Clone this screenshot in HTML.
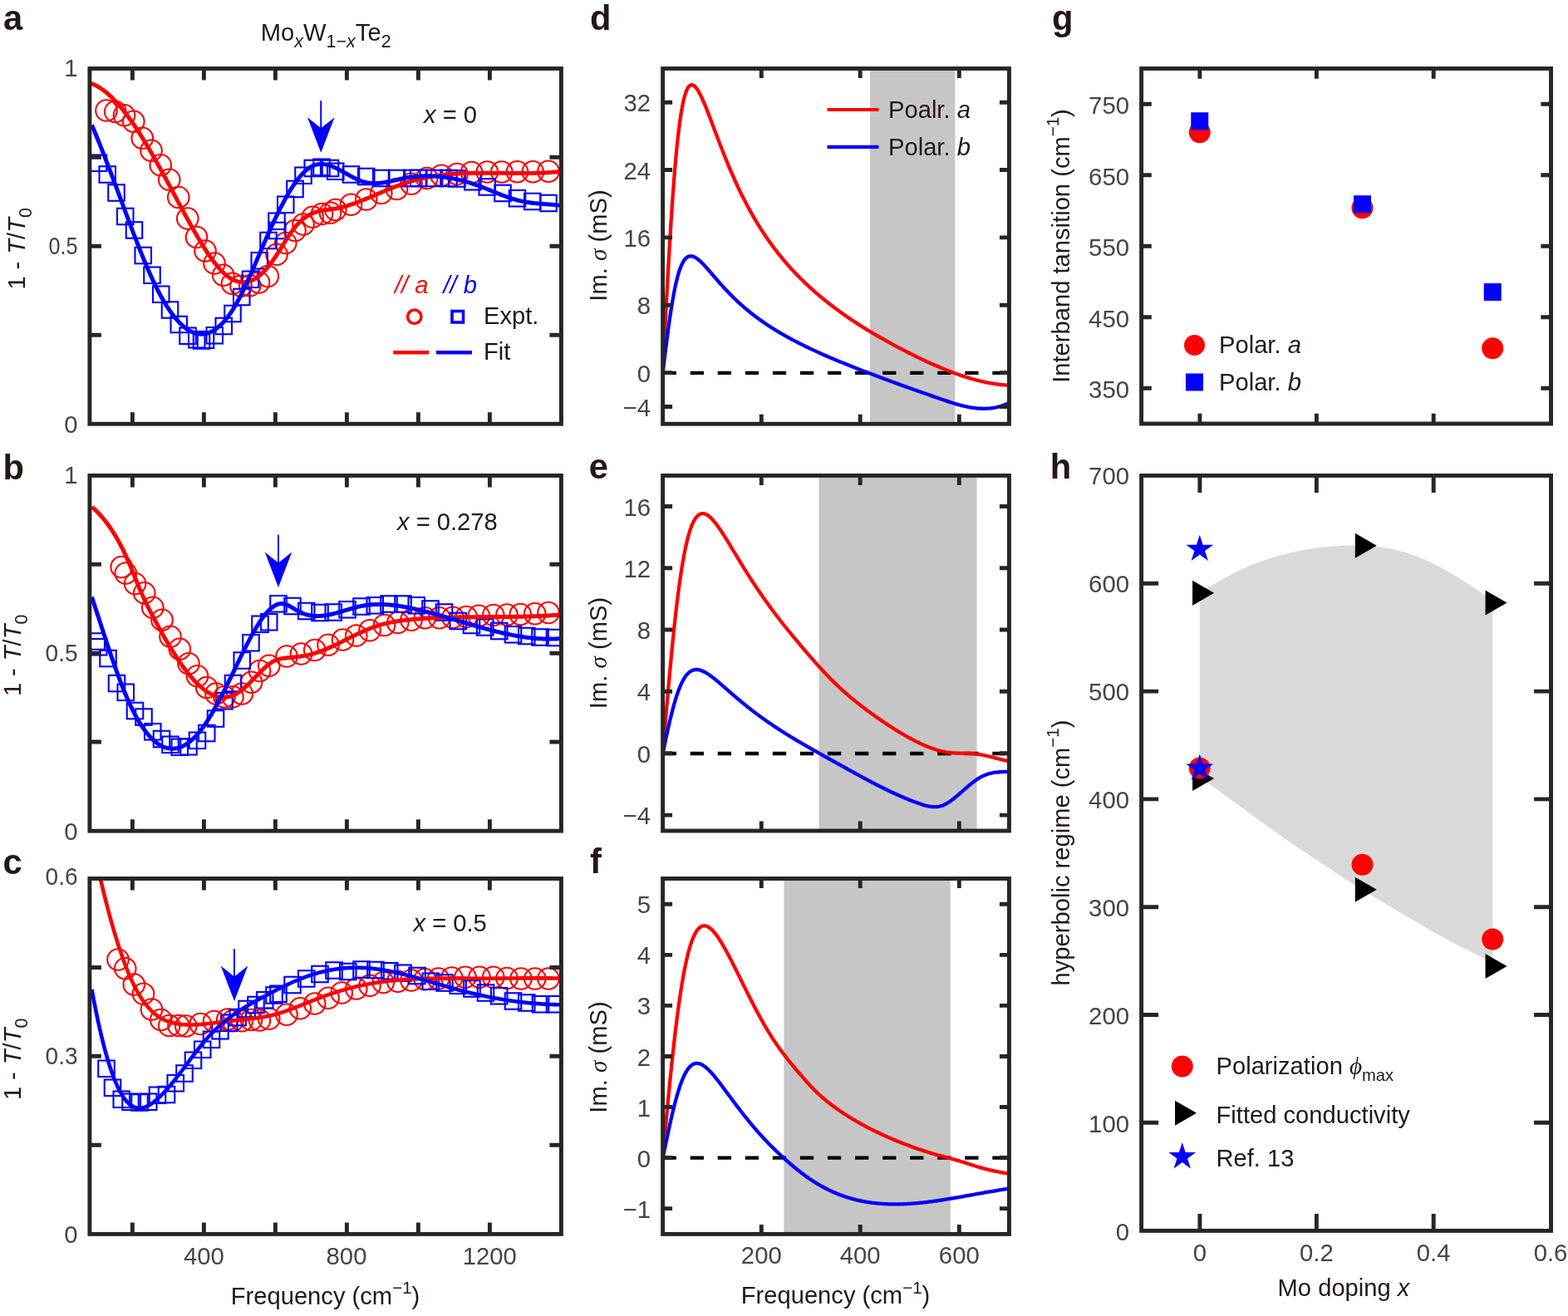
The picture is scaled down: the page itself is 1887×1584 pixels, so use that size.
<!DOCTYPE html>
<html><head><meta charset="utf-8"><title>Figure</title>
<style>
html,body{margin:0;padding:0;background:#fff;}
svg{display:block;font-family:"Liberation Sans",sans-serif;}
.sy{font-family:"Liberation Serif",serif;font-style:italic;}
</style></head><body>
<svg width="1887" height="1584" viewBox="0 0 1887 1584">
<rect width="1887" height="1584" fill="#ffffff"/>
<g id="panel-a">
<clipPath id="ca"><rect x="107.9" y="82.5" width="567.55" height="427.75"/></clipPath>
<g clip-path="url(#ca)">
<g fill="none" stroke="#ff0000" stroke-width="2.1"><circle cx="128" cy="133" r="12.8"/><circle cx="138.75" cy="134.5" r="12.8"/><circle cx="149.5" cy="138.75" r="12.8"/><circle cx="160.75" cy="146.25" r="12.8"/><circle cx="171.25" cy="166.25" r="12.8"/><circle cx="182" cy="181.25" r="12.8"/><circle cx="193.25" cy="198.75" r="12.8"/><circle cx="203.75" cy="216.25" r="12.8"/><circle cx="214.75" cy="237.5" r="12.8"/><circle cx="225.75" cy="263" r="12.8"/><circle cx="236.5" cy="285.5" r="12.8"/><circle cx="247" cy="302" r="12.8"/><circle cx="258" cy="317" r="12.8"/><circle cx="268.75" cy="331.25" r="12.8"/><circle cx="279.5" cy="341.25" r="12.8"/><circle cx="290" cy="344.25" r="12.8"/><circle cx="300.75" cy="343.75" r="12.8"/><circle cx="311.5" cy="340" r="12.8"/><circle cx="322.25" cy="332.5" r="12.8"/><circle cx="333" cy="306.25" r="12.8"/><circle cx="343.75" cy="292.5" r="12.8"/><circle cx="355" cy="277.5" r="12.8"/><circle cx="365" cy="270" r="12.8"/><circle cx="376.25" cy="261.25" r="12.8"/><circle cx="387.5" cy="257.5" r="12.8"/><circle cx="397.5" cy="256.25" r="12.8"/><circle cx="403.75" cy="252.5" r="12.8"/><circle cx="422.5" cy="246.25" r="12.8"/><circle cx="440.75" cy="240" r="12.8"/><circle cx="458.75" cy="232.5" r="12.8"/><circle cx="477.5" cy="227.5" r="12.8"/><circle cx="495" cy="221.25" r="12.8"/><circle cx="513.75" cy="214.5" r="12.8"/><circle cx="531.25" cy="211.25" r="12.8"/><circle cx="550" cy="209.5" r="12.8"/><circle cx="567.5" cy="207.5" r="12.8"/><circle cx="586.25" cy="207" r="12.8"/><circle cx="603.75" cy="207" r="12.8"/><circle cx="622.5" cy="206.75" r="12.8"/><circle cx="641.25" cy="206.75" r="12.8"/><circle cx="660" cy="206.25" r="12.8"/></g>
<g fill="none" stroke="#0000ff" stroke-width="2.1"><rect x="108.75" y="186.5" width="19.5" height="19.5"/><rect x="119.5" y="200.25" width="19.5" height="19.5"/><rect x="130.25" y="222.25" width="19.5" height="19.5"/><rect x="141" y="250.75" width="19.5" height="19.5"/><rect x="151.75" y="267.25" width="19.5" height="19.5"/><rect x="162.5" y="297.75" width="19.5" height="19.5"/><rect x="173.25" y="321.5" width="19.5" height="19.5"/><rect x="184" y="344.5" width="19.5" height="19.5"/><rect x="194.75" y="363.25" width="19.5" height="19.5"/><rect x="205.5" y="380.75" width="19.5" height="19.5"/><rect x="216.25" y="394.5" width="19.5" height="19.5"/><rect x="227" y="399" width="19.5" height="19.5"/><rect x="232.75" y="400.25" width="19.5" height="19.5"/><rect x="237.75" y="399.5" width="19.5" height="19.5"/><rect x="248.5" y="394" width="19.5" height="19.5"/><rect x="259.5" y="382.75" width="19.5" height="19.5"/><rect x="270.25" y="367.75" width="19.5" height="19.5"/><rect x="281" y="347.75" width="19.5" height="19.5"/><rect x="291.75" y="326.5" width="19.5" height="19.5"/><rect x="302.5" y="304" width="19.5" height="19.5"/><rect x="313.25" y="279.75" width="19.5" height="19.5"/><rect x="323.25" y="256.5" width="19.5" height="19.5"/><rect x="324" y="267.75" width="19.5" height="19.5"/><rect x="334" y="236.5" width="19.5" height="19.5"/><rect x="345.25" y="217.75" width="19.5" height="19.5"/><rect x="355.25" y="201.5" width="19.5" height="19.5"/><rect x="366.5" y="192.75" width="19.5" height="19.5"/><rect x="377.25" y="191.5" width="19.5" height="19.5"/><rect x="387.75" y="192.75" width="19.5" height="19.5"/><rect x="394" y="196.5" width="19.5" height="19.5"/><rect x="412.75" y="200.25" width="19.5" height="19.5"/><rect x="431" y="202.75" width="19.5" height="19.5"/><rect x="449" y="204.75" width="19.5" height="19.5"/><rect x="467.75" y="204.75" width="19.5" height="19.5"/><rect x="486" y="204.75" width="19.5" height="19.5"/><rect x="494" y="204.75" width="19.5" height="19.5"/><rect x="512.75" y="204.75" width="19.5" height="19.5"/><rect x="530.25" y="204.75" width="19.5" height="19.5"/><rect x="540.25" y="205.25" width="19.5" height="19.5"/><rect x="559" y="209" width="19.5" height="19.5"/><rect x="576.5" y="215.25" width="19.5" height="19.5"/><rect x="595.25" y="222.75" width="19.5" height="19.5"/><rect x="612.75" y="229" width="19.5" height="19.5"/><rect x="631" y="232.75" width="19.5" height="19.5"/><rect x="650.25" y="234.75" width="19.5" height="19.5"/></g>
<path d="M107.75,99.92 L108.89,100.26 L110.02,100.65 L111.16,101.07 L112.3,101.53 L113.44,102.02 L114.57,102.55 L115.71,103.11 L116.85,103.71 L117.99,104.35 L119.12,105.02 L120.26,105.72 L121.4,106.46 L122.53,107.23 L123.67,108.03 L124.81,108.87 L125.95,109.73 L127.08,110.63 L128.22,111.56 L129.36,112.52 L130.5,113.51 L131.63,114.53 L132.77,115.58 L133.91,116.66 L135.04,117.77 L136.18,118.91 L137.32,120.07 L138.46,121.27 L139.59,122.48 L140.73,123.73 L141.87,125 L143.01,126.3 L144.14,127.63 L145.28,128.98 L146.42,130.35 L147.55,131.75 L148.69,133.18 L149.83,134.62 L150.97,136.09 L152.1,137.59 L153.24,139.1 L154.38,140.64 L155.52,142.2 L156.65,143.78 L157.79,145.38 L158.93,147.01 L160.06,148.65 L161.2,150.31 L162.34,151.99 L163.48,153.7 L164.61,155.42 L165.75,157.15 L166.89,158.91 L168.03,160.68 L169.16,162.47 L170.3,164.28 L171.44,166.1 L172.57,167.94 L173.71,169.8 L174.85,171.66 L175.99,173.55 L177.12,175.45 L178.26,177.36 L179.4,179.29 L180.54,181.22 L181.67,183.18 L182.81,185.14 L183.95,187.12 L185.08,189.1 L186.22,191.1 L187.36,193.11 L188.5,195.13 L189.63,197.16 L190.77,199.2 L191.91,201.25 L193.05,203.31 L194.18,205.37 L195.32,207.45 L196.46,209.53 L197.59,211.62 L198.73,213.71 L199.87,215.81 L201.01,217.92 L202.14,220.03 L203.28,222.15 L204.42,224.27 L205.56,226.4 L206.69,228.53 L207.83,230.66 L208.97,232.79 L210.1,234.92 L211.24,237.05 L212.38,239.18 L213.52,241.31 L214.65,243.44 L215.79,245.56 L216.93,247.68 L218.07,249.8 L219.2,251.91 L220.34,254.02 L221.48,256.11 L222.61,258.21 L223.75,260.29 L224.89,262.37 L226.03,264.43 L227.16,266.49 L228.3,268.54 L229.44,270.57 L230.58,272.6 L231.71,274.61 L232.85,276.61 L233.99,278.59 L235.12,280.56 L236.26,282.51 L237.4,284.45 L238.54,286.37 L239.67,288.27 L240.81,290.16 L241.95,292.03 L243.09,293.87 L244.22,295.7 L245.36,297.51 L246.5,299.29 L247.63,301.05 L248.77,302.79 L249.91,304.5 L251.05,306.19 L252.18,307.85 L253.32,309.48 L254.46,311.07 L255.6,312.64 L256.73,314.18 L257.87,315.68 L259.01,317.14 L260.14,318.57 L261.28,319.97 L262.42,321.32 L263.56,322.63 L264.69,323.91 L265.83,325.14 L266.97,326.33 L268.11,327.47 L269.24,328.57 L270.38,329.62 L271.52,330.62 L272.65,331.57 L273.79,332.47 L274.93,333.32 L276.07,334.12 L277.2,334.86 L278.34,335.55 L279.48,336.19 L280.62,336.77 L281.75,337.3 L282.89,337.78 L284.03,338.21 L285.16,338.58 L286.3,338.9 L287.44,339.16 L288.58,339.37 L289.71,339.53 L290.85,339.64 L291.99,339.7 L293.13,339.7 L294.26,339.64 L295.4,339.54 L296.54,339.38 L297.67,339.17 L298.81,338.91 L299.95,338.59 L301.09,338.22 L302.22,337.8 L303.36,337.33 L304.5,336.8 L305.64,336.22 L306.77,335.59 L307.91,334.9 L309.05,334.17 L310.18,333.38 L311.32,332.53 L312.46,331.64 L313.6,330.69 L314.73,329.69 L315.87,328.63 L317.01,327.53 L318.15,326.37 L319.28,325.16 L320.42,323.9 L321.56,322.58 L322.69,321.21 L323.83,319.79 L324.97,318.32 L326.11,316.79 L327.24,315.22 L328.38,313.6 L329.52,311.94 L330.66,310.25 L331.79,308.53 L332.93,306.78 L334.07,305 L335.2,303.21 L336.34,301.41 L337.48,299.59 L338.62,297.77 L339.75,295.95 L340.89,294.13 L342.03,292.32 L343.17,290.52 L344.3,288.73 L345.44,286.97 L346.58,285.23 L347.71,283.52 L348.85,281.84 L349.99,280.2 L351.13,278.6 L352.26,277.04 L353.4,275.54 L354.54,274.09 L355.68,272.7 L356.81,271.37 L357.95,270.09 L359.09,268.88 L360.22,267.72 L361.36,266.61 L362.5,265.56 L363.64,264.56 L364.77,263.61 L365.91,262.71 L367.05,261.87 L368.19,261.07 L369.32,260.31 L370.46,259.6 L371.6,258.94 L372.73,258.32 L373.87,257.74 L375.01,257.2 L376.15,256.7 L377.28,256.24 L378.42,255.81 L379.56,255.42 L380.7,255.06 L381.83,254.73 L382.97,254.42 L384.11,254.14 L385.24,253.89 L386.38,253.65 L387.52,253.43 L388.66,253.23 L389.79,253.04 L390.93,252.87 L392.07,252.7 L393.21,252.55 L394.34,252.39 L395.48,252.25 L396.62,252.1 L397.76,251.96 L398.89,251.81 L400.03,251.66 L401.17,251.5 L402.3,251.33 L403.44,251.15 L404.58,250.96 L405.72,250.76 L406.85,250.54 L407.99,250.3 L409.13,250.05 L410.27,249.79 L411.4,249.51 L412.54,249.22 L413.68,248.91 L414.81,248.6 L415.95,248.27 L417.09,247.94 L418.23,247.59 L419.36,247.23 L420.5,246.87 L421.64,246.49 L422.78,246.11 L423.91,245.72 L425.05,245.32 L426.19,244.91 L427.32,244.5 L428.46,244.09 L429.6,243.66 L430.74,243.23 L431.87,242.8 L433.01,242.36 L434.15,241.92 L435.29,241.47 L436.42,241.02 L437.56,240.56 L438.7,240.1 L439.83,239.63 L440.97,239.17 L442.11,238.7 L443.25,238.22 L444.38,237.75 L445.52,237.27 L446.66,236.79 L447.8,236.31 L448.93,235.82 L450.07,235.34 L451.21,234.85 L452.34,234.37 L453.48,233.88 L454.62,233.39 L455.76,232.91 L456.89,232.42 L458.03,231.94 L459.17,231.45 L460.31,230.97 L461.44,230.48 L462.58,230 L463.72,229.52 L464.85,229.05 L465.99,228.57 L467.13,228.1 L468.27,227.63 L469.4,227.17 L470.54,226.7 L471.68,226.25 L472.82,225.79 L473.95,225.34 L475.09,224.89 L476.23,224.45 L477.36,224.02 L478.5,223.59 L479.64,223.16 L480.78,222.74 L481.91,222.33 L483.05,221.92 L484.19,221.52 L485.33,221.12 L486.46,220.74 L487.6,220.36 L488.74,219.98 L489.87,219.62 L491.01,219.26 L492.15,218.91 L493.29,218.57 L494.42,218.23 L495.56,217.91 L496.7,217.58 L497.84,217.27 L498.97,216.96 L500.11,216.66 L501.25,216.37 L502.38,216.08 L503.52,215.8 L504.66,215.52 L505.8,215.26 L506.93,214.99 L508.07,214.74 L509.21,214.49 L510.35,214.25 L511.48,214.01 L512.62,213.78 L513.76,213.55 L514.89,213.34 L516.03,213.12 L517.17,212.92 L518.31,212.71 L519.44,212.52 L520.58,212.33 L521.72,212.14 L522.86,211.96 L523.99,211.79 L525.13,211.62 L526.27,211.45 L527.4,211.29 L528.54,211.14 L529.68,210.99 L530.82,210.85 L531.95,210.71 L533.09,210.57 L534.23,210.44 L535.37,210.31 L536.5,210.19 L537.64,210.08 L538.78,209.96 L539.91,209.85 L541.05,209.75 L542.19,209.65 L543.33,209.55 L544.46,209.46 L545.6,209.37 L546.74,209.29 L547.88,209.21 L549.01,209.13 L550.15,209.06 L551.29,208.99 L552.42,208.92 L553.56,208.86 L554.7,208.8 L555.84,208.74 L556.97,208.69 L558.11,208.64 L559.25,208.59 L560.39,208.55 L561.52,208.51 L562.66,208.47 L563.8,208.43 L564.93,208.4 L566.07,208.37 L567.21,208.34 L568.35,208.32 L569.48,208.29 L570.62,208.27 L571.76,208.25 L572.9,208.24 L574.03,208.22 L575.17,208.21 L576.31,208.2 L577.44,208.19 L578.58,208.19 L579.72,208.18 L580.86,208.18 L581.99,208.17 L583.13,208.17 L584.27,208.18 L585.41,208.18 L586.54,208.18 L587.68,208.19 L588.82,208.19 L589.95,208.2 L591.09,208.21 L592.23,208.22 L593.37,208.23 L594.5,208.24 L595.64,208.25 L596.78,208.26 L597.92,208.27 L599.05,208.29 L600.19,208.3 L601.33,208.31 L602.46,208.33 L603.6,208.34 L604.74,208.35 L605.88,208.37 L607.01,208.38 L608.15,208.4 L609.29,208.41 L610.43,208.42 L611.56,208.44 L612.7,208.45 L613.84,208.46 L614.97,208.47 L616.11,208.49 L617.25,208.5 L618.39,208.51 L619.52,208.52 L620.66,208.52 L621.8,208.53 L622.94,208.54 L624.07,208.54 L625.21,208.54 L626.35,208.55 L627.48,208.55 L628.62,208.55 L629.76,208.55 L630.9,208.54 L632.03,208.54 L633.17,208.53 L634.31,208.52 L635.45,208.51 L636.58,208.5 L637.72,208.49 L638.86,208.47 L639.99,208.45 L641.13,208.43 L642.27,208.41 L643.41,208.38 L644.54,208.35 L645.68,208.32 L646.82,208.29 L647.96,208.25 L649.09,208.22 L650.23,208.18 L651.37,208.13 L652.5,208.08 L653.64,208.03 L654.78,207.98 L655.92,207.92 L657.05,207.87 L658.19,207.8 L659.33,207.74 L660.47,207.67 L661.6,207.59 L662.74,207.52 L663.88,207.44 L665.01,207.35 L666.15,207.26 L667.29,207.17 L668.43,207.08 L669.56,206.98 L670.7,206.87 L671.84,206.76 L672.98,206.65 L674.11,206.54 L675.25,206.41" fill="none" stroke="#ff0000" stroke-width="5" stroke-linejoin="round"/>
<path d="M110.5,150.44 L111.63,153.11 L112.76,155.81 L113.9,158.53 L115.03,161.27 L116.16,164.03 L117.29,166.81 L118.42,169.61 L119.55,172.43 L120.69,175.26 L121.82,178.12 L122.95,180.99 L124.08,183.87 L125.21,186.77 L126.34,189.69 L127.48,192.61 L128.61,195.55 L129.74,198.5 L130.87,201.47 L132,204.44 L133.14,207.42 L134.27,210.41 L135.4,213.41 L136.53,216.41 L137.66,219.43 L138.79,222.44 L139.93,225.47 L141.06,228.49 L142.19,231.52 L143.32,234.56 L144.45,237.59 L145.58,240.63 L146.72,243.67 L147.85,246.7 L148.98,249.74 L150.11,252.77 L151.24,255.8 L152.38,258.83 L153.51,261.85 L154.64,264.87 L155.77,267.88 L156.9,270.89 L158.03,273.89 L159.17,276.88 L160.3,279.85 L161.43,282.82 L162.56,285.77 L163.69,288.71 L164.82,291.63 L165.96,294.53 L167.09,297.42 L168.22,300.28 L169.35,303.13 L170.48,305.94 L171.62,308.74 L172.75,311.51 L173.88,314.25 L175.01,316.97 L176.14,319.65 L177.27,322.3 L178.41,324.92 L179.54,327.51 L180.67,330.06 L181.8,332.58 L182.93,335.05 L184.06,337.49 L185.2,339.89 L186.33,342.24 L187.46,344.56 L188.59,346.83 L189.72,349.06 L190.86,351.24 L191.99,353.39 L193.12,355.49 L194.25,357.54 L195.38,359.56 L196.51,361.53 L197.65,363.45 L198.78,365.33 L199.91,367.17 L201.04,368.97 L202.17,370.71 L203.3,372.42 L204.44,374.08 L205.57,375.69 L206.7,377.26 L207.83,378.78 L208.96,380.26 L210.1,381.69 L211.23,383.07 L212.36,384.41 L213.49,385.7 L214.62,386.94 L215.75,388.14 L216.89,389.29 L218.02,390.39 L219.15,391.44 L220.28,392.45 L221.41,393.4 L222.54,394.31 L223.68,395.17 L224.81,395.99 L225.94,396.75 L227.07,397.46 L228.2,398.13 L229.34,398.74 L230.47,399.31 L231.6,399.82 L232.73,400.28 L233.86,400.7 L234.99,401.06 L236.13,401.37 L237.26,401.63 L238.39,401.84 L239.52,402 L240.65,402.11 L241.78,402.16 L242.92,402.17 L244.05,402.12 L245.18,402.02 L246.31,401.86 L247.44,401.65 L248.58,401.4 L249.71,401.08 L250.84,400.72 L251.97,400.3 L253.1,399.83 L254.23,399.31 L255.37,398.73 L256.5,398.1 L257.63,397.42 L258.76,396.69 L259.89,395.9 L261.02,395.06 L262.16,394.16 L263.29,393.21 L264.42,392.21 L265.55,391.15 L266.68,390.04 L267.82,388.88 L268.95,387.66 L270.08,386.39 L271.21,385.07 L272.34,383.69 L273.47,382.25 L274.61,380.77 L275.74,379.23 L276.87,377.63 L278,375.98 L279.13,374.28 L280.26,372.52 L281.4,370.7 L282.53,368.83 L283.66,366.91 L284.79,364.93 L285.92,362.9 L287.06,360.82 L288.19,358.68 L289.32,356.5 L290.45,354.27 L291.58,351.99 L292.71,349.68 L293.85,347.33 L294.98,344.94 L296.11,342.52 L297.24,340.06 L298.37,337.58 L299.5,335.07 L300.64,332.54 L301.77,329.99 L302.9,327.42 L304.03,324.83 L305.16,322.22 L306.3,319.61 L307.43,316.98 L308.56,314.35 L309.69,311.71 L310.82,309.07 L311.95,306.43 L313.09,303.8 L314.22,301.16 L315.35,298.54 L316.48,295.92 L317.61,293.32 L318.74,290.73 L319.88,288.15 L321.01,285.58 L322.14,283.03 L323.27,280.49 L324.4,277.97 L325.54,275.47 L326.67,272.99 L327.8,270.53 L328.93,268.09 L330.06,265.68 L331.19,263.28 L332.33,260.92 L333.46,258.57 L334.59,256.26 L335.72,253.97 L336.85,251.71 L337.98,249.49 L339.12,247.29 L340.25,245.13 L341.38,243 L342.51,240.9 L343.64,238.84 L344.78,236.82 L345.91,234.84 L347.04,232.89 L348.17,230.99 L349.3,229.12 L350.43,227.3 L351.57,225.52 L352.7,223.79 L353.83,222.1 L354.96,220.46 L356.09,218.87 L357.22,217.33 L358.36,215.84 L359.49,214.39 L360.62,213 L361.75,211.67 L362.88,210.39 L364.02,209.16 L365.15,207.99 L366.28,206.88 L367.41,205.83 L368.54,204.84 L369.67,203.91 L370.81,203.04 L371.94,202.23 L373.07,201.49 L374.2,200.82 L375.33,200.21 L376.46,199.67 L377.6,199.19 L378.73,198.78 L379.86,198.43 L380.99,198.14 L382.12,197.9 L383.26,197.73 L384.39,197.6 L385.52,197.53 L386.65,197.51 L387.78,197.54 L388.91,197.61 L390.05,197.73 L391.18,197.89 L392.31,198.1 L393.44,198.34 L394.57,198.62 L395.7,198.93 L396.84,199.28 L397.97,199.66 L399.1,200.08 L400.23,200.52 L401.36,200.98 L402.49,201.47 L403.63,201.99 L404.76,202.52 L405.89,203.08 L407.02,203.65 L408.15,204.24 L409.29,204.84 L410.42,205.45 L411.55,206.07 L412.68,206.7 L413.81,207.34 L414.94,207.98 L416.08,208.62 L417.21,209.27 L418.34,209.91 L419.47,210.55 L420.6,211.19 L421.73,211.82 L422.87,212.44 L424,213.05 L425.13,213.65 L426.26,214.23 L427.39,214.8 L428.53,215.35 L429.66,215.88 L430.79,216.39 L431.92,216.88 L433.05,217.34 L434.18,217.78 L435.32,218.19 L436.45,218.56 L437.58,218.91 L438.71,219.22 L439.84,219.49 L440.97,219.74 L442.11,219.95 L443.24,220.14 L444.37,220.29 L445.5,220.42 L446.63,220.52 L447.77,220.59 L448.9,220.64 L450.03,220.67 L451.16,220.67 L452.29,220.65 L453.42,220.6 L454.56,220.54 L455.69,220.46 L456.82,220.36 L457.95,220.24 L459.08,220.11 L460.21,219.96 L461.35,219.8 L462.48,219.62 L463.61,219.43 L464.74,219.23 L465.87,219.02 L467.01,218.8 L468.14,218.58 L469.27,218.34 L470.4,218.1 L471.53,217.85 L472.66,217.6 L473.8,217.35 L474.93,217.09 L476.06,216.83 L477.19,216.57 L478.32,216.31 L479.45,216.05 L480.59,215.8 L481.72,215.54 L482.85,215.3 L483.98,215.05 L485.11,214.82 L486.25,214.59 L487.38,214.37 L488.51,214.16 L489.64,213.96 L490.77,213.77 L491.9,213.58 L493.04,213.41 L494.17,213.24 L495.3,213.09 L496.43,212.94 L497.56,212.81 L498.69,212.68 L499.83,212.56 L500.96,212.45 L502.09,212.35 L503.22,212.26 L504.35,212.18 L505.49,212.1 L506.62,212.04 L507.75,211.98 L508.88,211.93 L510.01,211.9 L511.14,211.87 L512.28,211.85 L513.41,211.83 L514.54,211.83 L515.67,211.84 L516.8,211.85 L517.93,211.87 L519.07,211.9 L520.2,211.94 L521.33,211.99 L522.46,212.04 L523.59,212.11 L524.73,212.18 L525.86,212.26 L526.99,212.35 L528.12,212.45 L529.25,212.55 L530.38,212.67 L531.52,212.79 L532.65,212.92 L533.78,213.06 L534.91,213.2 L536.04,213.36 L537.17,213.52 L538.31,213.69 L539.44,213.87 L540.57,214.05 L541.7,214.24 L542.83,214.45 L543.97,214.65 L545.1,214.87 L546.23,215.1 L547.36,215.33 L548.49,215.57 L549.62,215.81 L550.76,216.07 L551.89,216.33 L553.02,216.6 L554.15,216.88 L555.28,217.16 L556.41,217.45 L557.55,217.75 L558.68,218.06 L559.81,218.37 L560.94,218.69 L562.07,219.02 L563.21,219.36 L564.34,219.7 L565.47,220.05 L566.6,220.4 L567.73,220.77 L568.86,221.14 L570,221.52 L571.13,221.9 L572.26,222.29 L573.39,222.69 L574.52,223.09 L575.65,223.51 L576.79,223.92 L577.92,224.35 L579.05,224.78 L580.18,225.21 L581.31,225.65 L582.45,226.1 L583.58,226.55 L584.71,227 L585.84,227.45 L586.97,227.91 L588.1,228.37 L589.24,228.83 L590.37,229.29 L591.5,229.75 L592.63,230.21 L593.76,230.67 L594.89,231.13 L596.03,231.59 L597.16,232.05 L598.29,232.51 L599.42,232.96 L600.55,233.41 L601.69,233.86 L602.82,234.3 L603.95,234.74 L605.08,235.18 L606.21,235.61 L607.34,236.03 L608.48,236.45 L609.61,236.86 L610.74,237.26 L611.87,237.66 L613,238.05 L614.13,238.43 L615.27,238.8 L616.4,239.16 L617.53,239.51 L618.66,239.85 L619.79,240.19 L620.93,240.51 L622.06,240.82 L623.19,241.11 L624.32,241.4 L625.45,241.67 L626.58,241.93 L627.72,242.18 L628.85,242.41 L629.98,242.63 L631.11,242.85 L632.24,243.05 L633.37,243.24 L634.51,243.42 L635.64,243.59 L636.77,243.75 L637.9,243.91 L639.03,244.06 L640.17,244.2 L641.3,244.33 L642.43,244.46 L643.56,244.58 L644.69,244.69 L645.82,244.8 L646.96,244.91 L648.09,245.01 L649.22,245.11 L650.35,245.2 L651.48,245.29 L652.61,245.38 L653.75,245.47 L654.88,245.55 L656.01,245.64 L657.14,245.72 L658.27,245.81 L659.41,245.89 L660.54,245.98 L661.67,246.07 L662.8,246.16 L663.93,246.25 L665.06,246.35 L666.2,246.44 L667.33,246.55 L668.46,246.65 L669.59,246.76 L670.72,246.88 L671.85,247 L672.99,247.13 L674.12,247.26 L675.25,247.4" fill="none" stroke="#0000ff" stroke-width="5" stroke-linejoin="round"/>
</g>
<rect x="107.9" y="82.5" width="567.55" height="427.75" fill="none" stroke="#262626" stroke-width="4.9"/>
<path d="M159.4,82.5 v14 M159.4,510.25 v-14 M245.4,82.5 v14 M245.4,510.25 v-14 M331.4,82.5 v14 M331.4,510.25 v-14 M417.4,82.5 v14 M417.4,510.25 v-14 M503.4,82.5 v14 M503.4,510.25 v-14 M589.4,82.5 v14 M589.4,510.25 v-14 M107.9,189.25 h14 M675.45,189.25 h-14 M107.9,296.25 h14 M675.45,296.25 h-14 M107.9,403.25 h14 M675.45,403.25 h-14" fill="none" stroke="#262626" stroke-width="4.9"/>
<path d="M386.25,121.25 V156.25" stroke="#0000ff" stroke-width="2" fill="none"/>
<path d="M386.25,183.75 L369.95,141.25 L386.25,154.25 L402.55,141.25 Z" fill="#0000ff"/>
<text x="93.6" y="92.3" font-size="29.3" text-anchor="end" fill="#474443">1</text>
<text x="93.6" y="306.05" font-size="29.3" text-anchor="end" fill="#474443" textLength="35" lengthAdjust="spacingAndGlyphs">0.5</text>
<text x="93.6" y="520.7" font-size="29.3" text-anchor="end" fill="#474443">0</text>
<text x="4" y="36" font-size="41.67" font-weight="bold" fill="#231815">a</text>
<text transform="translate(30,299.25) rotate(-90)" font-size="29.17" text-anchor="middle" fill="#231815">1 <tspan dx="-0.5">-</tspan> <tspan dx="1" font-style="italic">T</tspan>/<tspan font-style="italic">T</tspan><tspan font-size="21.5" dy="8">0</tspan></text>
<text x="392.2" y="48.6" font-size="29.17" text-anchor="middle" fill="#231815">Mo<tspan font-size="21.5" dy="8" font-style="italic">x</tspan><tspan dy="-8">W</tspan><tspan font-size="21.5" dy="8">1−<tspan font-style="italic">x</tspan></tspan><tspan dy="-8">Te</tspan><tspan font-size="21.5" dy="8">2</tspan></text>
<text x="510" y="148.25" font-size="29.17" fill="#231815"><tspan font-style="italic">x</tspan> = 0</text>
<text x="475" y="353" font-size="29.17" font-style="italic" fill="#ff0000">// a</text>
<text x="533.5" y="353" font-size="29.17" font-style="italic" fill="#0000ff">// b</text>
<circle cx="498.75" cy="381.25" r="8.2" fill="none" stroke="#ff0000" stroke-width="3.6"/>
<rect x="544" y="374.5" width="13.5" height="13.5" fill="none" stroke="#0000ff" stroke-width="3.6"/>
<text x="582" y="390" font-size="29.17" fill="#231815">Expt.</text>
<path d="M473.25,424.25 H516.25" stroke="#ff0000" stroke-width="4.6"/>
<path d="M525,424.25 H568" stroke="#0000ff" stroke-width="4.6"/>
<text x="582" y="432.5" font-size="29.17" fill="#231815">Fit</text>
</g>
<g id="panel-b">
<clipPath id="cb"><rect x="107.9" y="572.45" width="567.55" height="427.7"/></clipPath>
<g clip-path="url(#cb)">
<g fill="none" stroke="#ff0000" stroke-width="2.1"><circle cx="146.25" cy="682.5" r="12.8"/><circle cx="151.25" cy="690" r="12.8"/><circle cx="162.5" cy="702.5" r="12.8"/><circle cx="173.75" cy="713.75" r="12.8"/><circle cx="183.75" cy="731.25" r="12.8"/><circle cx="195" cy="746.25" r="12.8"/><circle cx="205" cy="766.25" r="12.8"/><circle cx="216.25" cy="781.25" r="12.8"/><circle cx="227" cy="798.75" r="12.8"/><circle cx="237.5" cy="813.75" r="12.8"/><circle cx="248.75" cy="827.5" r="12.8"/><circle cx="260" cy="835" r="12.8"/><circle cx="270" cy="838.75" r="12.8"/><circle cx="280" cy="838.75" r="12.8"/><circle cx="291.25" cy="835" r="12.8"/><circle cx="302.5" cy="821.25" r="12.8"/><circle cx="312.5" cy="807.5" r="12.8"/><circle cx="323.75" cy="801.25" r="12.8"/><circle cx="345" cy="790" r="12.8"/><circle cx="362.5" cy="787" r="12.8"/><circle cx="378.75" cy="782.5" r="12.8"/><circle cx="395" cy="776.25" r="12.8"/><circle cx="412.5" cy="770" r="12.8"/><circle cx="428.75" cy="765" r="12.8"/><circle cx="445" cy="758.75" r="12.8"/><circle cx="462.5" cy="752.5" r="12.8"/><circle cx="478.75" cy="749.5" r="12.8"/><circle cx="495" cy="746.25" r="12.8"/><circle cx="511.25" cy="743.75" r="12.8"/><circle cx="528.75" cy="743.75" r="12.8"/><circle cx="545" cy="743.25" r="12.8"/><circle cx="561.25" cy="742.5" r="12.8"/><circle cx="576.25" cy="741.25" r="12.8"/><circle cx="593.75" cy="740.5" r="12.8"/><circle cx="610" cy="740" r="12.8"/><circle cx="626.25" cy="739.5" r="12.8"/><circle cx="643.75" cy="738.75" r="12.8"/><circle cx="660" cy="737.5" r="12.8"/></g>
<g fill="none" stroke="#0000ff" stroke-width="2.1"><rect x="106.5" y="762.25" width="19.5" height="19.5"/><rect x="109" y="769" width="19.5" height="19.5"/><rect x="120.25" y="782.75" width="19.5" height="19.5"/><rect x="130.75" y="812.75" width="19.5" height="19.5"/><rect x="141.5" y="823.5" width="19.5" height="19.5"/><rect x="152.75" y="845.75" width="19.5" height="19.5"/><rect x="163.25" y="853.25" width="19.5" height="19.5"/><rect x="174" y="871" width="19.5" height="19.5"/><rect x="184.75" y="879.75" width="19.5" height="19.5"/><rect x="195.25" y="886.5" width="19.5" height="19.5"/><rect x="206.5" y="889.5" width="19.5" height="19.5"/><rect x="217.25" y="889" width="19.5" height="19.5"/><rect x="227.75" y="881.5" width="19.5" height="19.5"/><rect x="239" y="872.75" width="19.5" height="19.5"/><rect x="249.75" y="855.25" width="19.5" height="19.5"/><rect x="260.25" y="834" width="19.5" height="19.5"/><rect x="270.75" y="812.75" width="19.5" height="19.5"/><rect x="281.5" y="785.25" width="19.5" height="19.5"/><rect x="292.25" y="764" width="19.5" height="19.5"/><rect x="303.25" y="741.5" width="19.5" height="19.5"/><rect x="314" y="739" width="19.5" height="19.5"/><rect x="325.25" y="717" width="19.5" height="19.5"/><rect x="342.25" y="719.75" width="19.5" height="19.5"/><rect x="359" y="725.75" width="19.5" height="19.5"/><rect x="375.25" y="727.75" width="19.5" height="19.5"/><rect x="391.5" y="727.25" width="19.5" height="19.5"/><rect x="408.25" y="724" width="19.5" height="19.5"/><rect x="425.25" y="720.25" width="19.5" height="19.5"/><rect x="441.5" y="719" width="19.5" height="19.5"/><rect x="458.25" y="717.25" width="19.5" height="19.5"/><rect x="475.25" y="717.25" width="19.5" height="19.5"/><rect x="491.5" y="719" width="19.5" height="19.5"/><rect x="508.25" y="723.25" width="19.5" height="19.5"/><rect x="524.75" y="727.25" width="19.5" height="19.5"/><rect x="541.5" y="737.75" width="19.5" height="19.5"/><rect x="557.75" y="742.75" width="19.5" height="19.5"/><rect x="574" y="745.25" width="19.5" height="19.5"/><rect x="591" y="749.75" width="19.5" height="19.5"/><rect x="607.75" y="754" width="19.5" height="19.5"/><rect x="624" y="755.75" width="19.5" height="19.5"/><rect x="640.25" y="757.25" width="19.5" height="19.5"/><rect x="657.75" y="757.75" width="19.5" height="19.5"/></g>
<path d="M110.5,610.05 L111.63,611.04 L112.76,612.05 L113.9,613.09 L115.03,614.17 L116.16,615.27 L117.29,616.4 L118.42,617.57 L119.55,618.76 L120.69,619.99 L121.82,621.26 L122.95,622.55 L124.08,623.89 L125.21,625.26 L126.34,626.66 L127.48,628.1 L128.61,629.59 L129.74,631.11 L130.87,632.67 L132,634.27 L133.14,635.91 L134.27,637.6 L135.4,639.33 L136.53,641.1 L137.66,642.92 L138.79,644.78 L139.93,646.69 L141.06,648.64 L142.19,650.64 L143.32,652.69 L144.45,654.79 L145.58,656.94 L146.72,659.14 L147.85,661.4 L148.98,663.7 L150.11,666.06 L151.24,668.47 L152.38,670.94 L153.51,673.46 L154.64,676.03 L155.77,678.67 L156.9,681.35 L158.03,684.08 L159.17,686.84 L160.3,689.62 L161.43,692.42 L162.56,695.23 L163.69,698.03 L164.82,700.82 L165.96,703.6 L167.09,706.34 L168.22,709.05 L169.35,711.71 L170.48,714.31 L171.62,716.85 L172.75,719.34 L173.88,721.78 L175.01,724.17 L176.14,726.51 L177.27,728.82 L178.41,731.09 L179.54,733.33 L180.67,735.53 L181.8,737.71 L182.93,739.88 L184.06,742.02 L185.2,744.15 L186.33,746.27 L187.46,748.38 L188.59,750.47 L189.72,752.56 L190.86,754.63 L191.99,756.69 L193.12,758.73 L194.25,760.77 L195.38,762.78 L196.51,764.78 L197.65,766.77 L198.78,768.74 L199.91,770.7 L201.04,772.63 L202.17,774.55 L203.3,776.45 L204.44,778.34 L205.57,780.2 L206.7,782.04 L207.83,783.87 L208.96,785.67 L210.1,787.46 L211.23,789.22 L212.36,790.96 L213.49,792.68 L214.62,794.37 L215.75,796.04 L216.89,797.69 L218.02,799.31 L219.15,800.91 L220.28,802.48 L221.41,804.03 L222.54,805.55 L223.68,807.04 L224.81,808.51 L225.94,809.95 L227.07,811.36 L228.2,812.74 L229.34,814.09 L230.47,815.42 L231.6,816.71 L232.73,817.97 L233.86,819.2 L234.99,820.4 L236.13,821.57 L237.26,822.7 L238.39,823.8 L239.52,824.87 L240.65,825.9 L241.78,826.9 L242.92,827.86 L244.05,828.78 L245.18,829.67 L246.31,830.53 L247.44,831.35 L248.58,832.12 L249.71,832.87 L250.84,833.57 L251.97,834.23 L253.1,834.86 L254.23,835.44 L255.37,835.99 L256.5,836.5 L257.63,836.96 L258.76,837.38 L259.89,837.77 L261.02,838.11 L262.16,838.41 L263.29,838.66 L264.42,838.87 L265.55,839.04 L266.68,839.17 L267.82,839.25 L268.95,839.28 L270.08,839.27 L271.21,839.22 L272.34,839.12 L273.47,838.97 L274.61,838.77 L275.74,838.53 L276.87,838.24 L278,837.91 L279.13,837.52 L280.26,837.09 L281.4,836.61 L282.53,836.07 L283.66,835.49 L284.79,834.86 L285.92,834.17 L287.06,833.44 L288.19,832.66 L289.32,831.84 L290.45,830.98 L291.58,830.07 L292.71,829.14 L293.85,828.16 L294.98,827.16 L296.11,826.13 L297.24,825.08 L298.37,824 L299.5,822.9 L300.64,821.79 L301.77,820.66 L302.9,819.51 L304.03,818.36 L305.16,817.2 L306.3,816.03 L307.43,814.86 L308.56,813.7 L309.69,812.53 L310.82,811.37 L311.95,810.22 L313.09,809.08 L314.22,807.96 L315.35,806.85 L316.48,805.76 L317.61,804.69 L318.74,803.64 L319.88,802.63 L321.01,801.65 L322.14,800.71 L323.27,799.8 L324.4,798.94 L325.54,798.13 L326.67,797.37 L327.8,796.66 L328.93,796.02 L330.06,795.43 L331.19,794.91 L332.33,794.44 L333.46,794.04 L334.59,793.68 L335.72,793.37 L336.85,793.1 L337.98,792.86 L339.12,792.66 L340.25,792.48 L341.38,792.33 L342.51,792.19 L343.64,792.06 L344.78,791.94 L345.91,791.82 L347.04,791.7 L348.17,791.59 L349.3,791.47 L350.43,791.35 L351.57,791.23 L352.7,791.11 L353.83,790.99 L354.96,790.86 L356.09,790.73 L357.22,790.59 L358.36,790.45 L359.49,790.3 L360.62,790.15 L361.75,789.99 L362.88,789.82 L364.02,789.64 L365.15,789.46 L366.28,789.26 L367.41,789.06 L368.54,788.84 L369.67,788.61 L370.81,788.38 L371.94,788.12 L373.07,787.86 L374.2,787.58 L375.33,787.29 L376.46,786.98 L377.6,786.66 L378.73,786.32 L379.86,785.98 L380.99,785.61 L382.12,785.24 L383.26,784.85 L384.39,784.45 L385.52,784.04 L386.65,783.62 L387.78,783.19 L388.91,782.75 L390.05,782.3 L391.18,781.84 L392.31,781.37 L393.44,780.89 L394.57,780.4 L395.7,779.91 L396.84,779.4 L397.97,778.89 L399.1,778.38 L400.23,777.85 L401.36,777.33 L402.49,776.79 L403.63,776.25 L404.76,775.71 L405.89,775.16 L407.02,774.61 L408.15,774.05 L409.29,773.49 L410.42,772.93 L411.55,772.37 L412.68,771.8 L413.81,771.24 L414.94,770.67 L416.08,770.1 L417.21,769.53 L418.34,768.96 L419.47,768.39 L420.6,767.82 L421.73,767.26 L422.87,766.69 L424,766.13 L425.13,765.57 L426.26,765.01 L427.39,764.46 L428.53,763.91 L429.66,763.36 L430.79,762.82 L431.92,762.28 L433.05,761.75 L434.18,761.22 L435.32,760.7 L436.45,760.19 L437.58,759.68 L438.71,759.18 L439.84,758.69 L440.97,758.2 L442.11,757.72 L443.24,757.26 L444.37,756.8 L445.5,756.35 L446.63,755.91 L447.77,755.48 L448.9,755.07 L450.03,754.66 L451.16,754.26 L452.29,753.88 L453.42,753.51 L454.56,753.15 L455.69,752.8 L456.82,752.46 L457.95,752.13 L459.08,751.81 L460.21,751.5 L461.35,751.2 L462.48,750.91 L463.61,750.62 L464.74,750.35 L465.87,750.09 L467.01,749.83 L468.14,749.59 L469.27,749.35 L470.4,749.12 L471.53,748.89 L472.66,748.68 L473.8,748.47 L474.93,748.27 L476.06,748.08 L477.19,747.89 L478.32,747.71 L479.45,747.54 L480.59,747.37 L481.72,747.21 L482.85,747.05 L483.98,746.9 L485.11,746.75 L486.25,746.61 L487.38,746.48 L488.51,746.35 L489.64,746.22 L490.77,746.1 L491.9,745.98 L493.04,745.87 L494.17,745.75 L495.3,745.65 L496.43,745.54 L497.56,745.44 L498.69,745.34 L499.83,745.25 L500.96,745.15 L502.09,745.06 L503.22,744.97 L504.35,744.89 L505.49,744.8 L506.62,744.72 L507.75,744.64 L508.88,744.56 L510.01,744.49 L511.14,744.41 L512.28,744.34 L513.41,744.27 L514.54,744.2 L515.67,744.14 L516.8,744.07 L517.93,744.01 L519.07,743.95 L520.2,743.89 L521.33,743.84 L522.46,743.78 L523.59,743.73 L524.73,743.68 L525.86,743.63 L526.99,743.58 L528.12,743.53 L529.25,743.49 L530.38,743.44 L531.52,743.4 L532.65,743.36 L533.78,743.32 L534.91,743.28 L536.04,743.25 L537.17,743.21 L538.31,743.18 L539.44,743.14 L540.57,743.11 L541.7,743.08 L542.83,743.06 L543.97,743.03 L545.1,743 L546.23,742.98 L547.36,742.95 L548.49,742.93 L549.62,742.91 L550.76,742.89 L551.89,742.87 L553.02,742.85 L554.15,742.83 L555.28,742.81 L556.41,742.8 L557.55,742.78 L558.68,742.77 L559.81,742.75 L560.94,742.74 L562.07,742.73 L563.21,742.71 L564.34,742.7 L565.47,742.69 L566.6,742.68 L567.73,742.67 L568.86,742.66 L570,742.65 L571.13,742.65 L572.26,742.64 L573.39,742.63 L574.52,742.62 L575.65,742.62 L576.79,742.61 L577.92,742.61 L579.05,742.6 L580.18,742.59 L581.31,742.59 L582.45,742.58 L583.58,742.58 L584.71,742.57 L585.84,742.57 L586.97,742.56 L588.1,742.56 L589.24,742.55 L590.37,742.55 L591.5,742.54 L592.63,742.54 L593.76,742.53 L594.89,742.53 L596.03,742.52 L597.16,742.52 L598.29,742.51 L599.42,742.5 L600.55,742.5 L601.69,742.49 L602.82,742.48 L603.95,742.48 L605.08,742.47 L606.21,742.46 L607.34,742.45 L608.48,742.44 L609.61,742.43 L610.74,742.42 L611.87,742.41 L613,742.39 L614.13,742.38 L615.27,742.37 L616.4,742.35 L617.53,742.34 L618.66,742.32 L619.79,742.31 L620.93,742.29 L622.06,742.27 L623.19,742.25 L624.32,742.23 L625.45,742.21 L626.58,742.19 L627.72,742.16 L628.85,742.14 L629.98,742.11 L631.11,742.09 L632.24,742.06 L633.37,742.03 L634.51,742 L635.64,741.97 L636.77,741.93 L637.9,741.9 L639.03,741.86 L640.17,741.83 L641.3,741.79 L642.43,741.75 L643.56,741.71 L644.69,741.66 L645.82,741.62 L646.96,741.57 L648.09,741.53 L649.22,741.48 L650.35,741.43 L651.48,741.38 L652.61,741.32 L653.75,741.27 L654.88,741.21 L656.01,741.15 L657.14,741.09 L658.27,741.02 L659.41,740.96 L660.54,740.89 L661.67,740.82 L662.8,740.75 L663.93,740.68 L665.06,740.61 L666.2,740.53 L667.33,740.45 L668.46,740.37 L669.59,740.29 L670.72,740.2 L671.85,740.11 L672.99,740.02 L674.12,739.93 L675.25,739.84" fill="none" stroke="#ff0000" stroke-width="5" stroke-linejoin="round"/>
<path d="M110.5,718.6 L111.63,722.04 L112.76,725.49 L113.9,728.95 L115.03,732.42 L116.16,735.89 L117.29,739.37 L118.42,742.85 L119.55,746.33 L120.69,749.81 L121.82,753.28 L122.95,756.75 L124.08,760.21 L125.21,763.66 L126.34,767.1 L127.48,770.52 L128.61,773.94 L129.74,777.33 L130.87,780.71 L132,784.06 L133.14,787.39 L134.27,790.7 L135.4,793.99 L136.53,797.24 L137.66,800.47 L138.79,803.66 L139.93,806.82 L141.06,809.95 L142.19,813.03 L143.32,816.08 L144.45,819.09 L145.58,822.06 L146.72,824.98 L147.85,827.85 L148.98,830.68 L150.11,833.46 L151.24,836.18 L152.38,838.85 L153.51,841.47 L154.64,844.03 L155.77,846.52 L156.9,848.96 L158.03,851.34 L159.17,853.66 L160.3,855.93 L161.43,858.13 L162.56,860.27 L163.69,862.36 L164.82,864.39 L165.96,866.36 L167.09,868.28 L168.22,870.13 L169.35,871.93 L170.48,873.68 L171.62,875.37 L172.75,877 L173.88,878.57 L175.01,880.1 L176.14,881.56 L177.27,882.97 L178.41,884.33 L179.54,885.63 L180.67,886.88 L181.8,888.07 L182.93,889.21 L184.06,890.3 L185.2,891.33 L186.33,892.32 L187.46,893.24 L188.59,894.12 L189.72,894.95 L190.86,895.72 L191.99,896.44 L193.12,897.1 L194.25,897.72 L195.38,898.29 L196.51,898.8 L197.65,899.26 L198.78,899.67 L199.91,900.03 L201.04,900.34 L202.17,900.6 L203.3,900.8 L204.44,900.96 L205.57,901.07 L206.7,901.12 L207.83,901.13 L208.96,901.09 L210.1,900.99 L211.23,900.85 L212.36,900.66 L213.49,900.42 L214.62,900.12 L215.75,899.78 L216.89,899.4 L218.02,898.96 L219.15,898.47 L220.28,897.94 L221.41,897.35 L222.54,896.72 L223.68,896.04 L224.81,895.32 L225.94,894.54 L227.07,893.72 L228.2,892.85 L229.34,891.93 L230.47,890.97 L231.6,889.96 L232.73,888.9 L233.86,887.79 L234.99,886.64 L236.13,885.44 L237.26,884.2 L238.39,882.91 L239.52,881.57 L240.65,880.19 L241.78,878.76 L242.92,877.28 L244.05,875.77 L245.18,874.2 L246.31,872.59 L247.44,870.94 L248.58,869.24 L249.71,867.51 L250.84,865.73 L251.97,863.92 L253.1,862.07 L254.23,860.18 L255.37,858.26 L256.5,856.31 L257.63,854.32 L258.76,852.31 L259.89,850.26 L261.02,848.19 L262.16,846.1 L263.29,843.97 L264.42,841.83 L265.55,839.66 L266.68,837.48 L267.82,835.27 L268.95,833.05 L270.08,830.81 L271.21,828.55 L272.34,826.28 L273.47,824 L274.61,821.71 L275.74,819.4 L276.87,817.09 L278,814.78 L279.13,812.45 L280.26,810.13 L281.4,807.8 L282.53,805.46 L283.66,803.13 L284.79,800.8 L285.92,798.47 L287.06,796.15 L288.19,793.83 L289.32,791.52 L290.45,789.21 L291.58,786.92 L292.71,784.63 L293.85,782.36 L294.98,780.11 L296.11,777.88 L297.24,775.66 L298.37,773.47 L299.5,771.3 L300.64,769.15 L301.77,767.04 L302.9,764.95 L304.03,762.9 L305.16,760.88 L306.3,758.9 L307.43,756.95 L308.56,755.05 L309.69,753.19 L310.82,751.37 L311.95,749.6 L313.09,747.88 L314.22,746.21 L315.35,744.59 L316.48,743.03 L317.61,741.52 L318.74,740.07 L319.88,738.69 L321.01,737.37 L322.14,736.11 L323.27,734.92 L324.4,733.8 L325.54,732.75 L326.67,731.78 L327.8,730.88 L328.93,730.06 L330.06,729.32 L331.19,728.67 L332.33,728.1 L333.46,727.62 L334.59,727.23 L335.72,726.93 L336.85,726.72 L337.98,726.61 L339.12,726.6 L340.25,726.69 L341.38,726.87 L342.51,727.13 L343.64,727.46 L344.78,727.87 L345.91,728.33 L347.04,728.85 L348.17,729.42 L349.3,730.02 L350.43,730.66 L351.57,731.32 L352.7,732 L353.83,732.68 L354.96,733.37 L356.09,734.06 L357.22,734.73 L358.36,735.38 L359.49,736 L360.62,736.59 L361.75,737.14 L362.88,737.65 L364.02,738.13 L365.15,738.57 L366.28,738.98 L367.41,739.36 L368.54,739.7 L369.67,740.01 L370.81,740.28 L371.94,740.53 L373.07,740.75 L374.2,740.93 L375.33,741.09 L376.46,741.22 L377.6,741.33 L378.73,741.41 L379.86,741.46 L380.99,741.49 L382.12,741.49 L383.26,741.48 L384.39,741.44 L385.52,741.38 L386.65,741.29 L387.78,741.19 L388.91,741.07 L390.05,740.93 L391.18,740.78 L392.31,740.6 L393.44,740.42 L394.57,740.21 L395.7,739.99 L396.84,739.76 L397.97,739.52 L399.1,739.26 L400.23,738.99 L401.36,738.72 L402.49,738.43 L403.63,738.13 L404.76,737.83 L405.89,737.52 L407.02,737.2 L408.15,736.87 L409.29,736.55 L410.42,736.21 L411.55,735.88 L412.68,735.54 L413.81,735.2 L414.94,734.85 L416.08,734.51 L417.21,734.17 L418.34,733.83 L419.47,733.49 L420.6,733.16 L421.73,732.83 L422.87,732.5 L424,732.18 L425.13,731.86 L426.26,731.55 L427.39,731.25 L428.53,730.96 L429.66,730.67 L430.79,730.4 L431.92,730.13 L433.05,729.88 L434.18,729.64 L435.32,729.41 L436.45,729.2 L437.58,729 L438.71,728.81 L439.84,728.64 L440.97,728.48 L442.11,728.33 L443.24,728.19 L444.37,728.07 L445.5,727.96 L446.63,727.86 L447.77,727.77 L448.9,727.69 L450.03,727.62 L451.16,727.57 L452.29,727.53 L453.42,727.49 L454.56,727.47 L455.69,727.46 L456.82,727.46 L457.95,727.47 L459.08,727.48 L460.21,727.51 L461.35,727.55 L462.48,727.6 L463.61,727.65 L464.74,727.72 L465.87,727.79 L467.01,727.87 L468.14,727.96 L469.27,728.06 L470.4,728.17 L471.53,728.28 L472.66,728.4 L473.8,728.53 L474.93,728.67 L476.06,728.81 L477.19,728.97 L478.32,729.12 L479.45,729.29 L480.59,729.46 L481.72,729.63 L482.85,729.82 L483.98,730.01 L485.11,730.2 L486.25,730.4 L487.38,730.6 L488.51,730.81 L489.64,731.03 L490.77,731.25 L491.9,731.47 L493.04,731.7 L494.17,731.93 L495.3,732.17 L496.43,732.41 L497.56,732.65 L498.69,732.9 L499.83,733.15 L500.96,733.41 L502.09,733.67 L503.22,733.93 L504.35,734.19 L505.49,734.46 L506.62,734.73 L507.75,735.01 L508.88,735.29 L510.01,735.57 L511.14,735.85 L512.28,736.14 L513.41,736.42 L514.54,736.72 L515.67,737.01 L516.8,737.31 L517.93,737.6 L519.07,737.91 L520.2,738.21 L521.33,738.51 L522.46,738.82 L523.59,739.13 L524.73,739.44 L525.86,739.76 L526.99,740.07 L528.12,740.39 L529.25,740.71 L530.38,741.03 L531.52,741.35 L532.65,741.67 L533.78,742 L534.91,742.33 L536.04,742.65 L537.17,742.98 L538.31,743.31 L539.44,743.64 L540.57,743.97 L541.7,744.3 L542.83,744.64 L543.97,744.97 L545.1,745.31 L546.23,745.64 L547.36,745.98 L548.49,746.31 L549.62,746.65 L550.76,746.98 L551.89,747.32 L553.02,747.66 L554.15,747.99 L555.28,748.33 L556.41,748.67 L557.55,749 L558.68,749.34 L559.81,749.67 L560.94,750.01 L562.07,750.34 L563.21,750.68 L564.34,751.01 L565.47,751.34 L566.6,751.68 L567.73,752.01 L568.86,752.34 L570,752.67 L571.13,753 L572.26,753.32 L573.39,753.65 L574.52,753.97 L575.65,754.29 L576.79,754.62 L577.92,754.94 L579.05,755.25 L580.18,755.57 L581.31,755.89 L582.45,756.2 L583.58,756.51 L584.71,756.82 L585.84,757.13 L586.97,757.43 L588.1,757.73 L589.24,758.03 L590.37,758.33 L591.5,758.63 L592.63,758.92 L593.76,759.21 L594.89,759.5 L596.03,759.79 L597.16,760.07 L598.29,760.35 L599.42,760.62 L600.55,760.9 L601.69,761.17 L602.82,761.44 L603.95,761.7 L605.08,761.96 L606.21,762.22 L607.34,762.47 L608.48,762.72 L609.61,762.97 L610.74,763.21 L611.87,763.45 L613,763.69 L614.13,763.92 L615.27,764.14 L616.4,764.37 L617.53,764.59 L618.66,764.8 L619.79,765.01 L620.93,765.22 L622.06,765.42 L623.19,765.62 L624.32,765.81 L625.45,766 L626.58,766.18 L627.72,766.36 L628.85,766.54 L629.98,766.7 L631.11,766.87 L632.24,767.03 L633.37,767.18 L634.51,767.33 L635.64,767.47 L636.77,767.61 L637.9,767.74 L639.03,767.87 L640.17,767.99 L641.3,768.1 L642.43,768.21 L643.56,768.32 L644.69,768.41 L645.82,768.5 L646.96,768.59 L648.09,768.67 L649.22,768.74 L650.35,768.81 L651.48,768.87 L652.61,768.92 L653.75,768.97 L654.88,769.01 L656.01,769.04 L657.14,769.07 L658.27,769.09 L659.41,769.11 L660.54,769.11 L661.67,769.11 L662.8,769.1 L663.93,769.09 L665.06,769.07 L666.2,769.04 L667.33,769 L668.46,768.96 L669.59,768.91 L670.72,768.85 L671.85,768.78 L672.99,768.7 L674.12,768.62 L675.25,768.53" fill="none" stroke="#0000ff" stroke-width="5" stroke-linejoin="round"/>
</g>
<rect x="107.9" y="572.45" width="567.55" height="427.7" fill="none" stroke="#262626" stroke-width="4.9"/>
<path d="M159.4,572.45 v14 M159.4,1000.15 v-14 M245.4,572.45 v14 M245.4,1000.15 v-14 M331.4,572.45 v14 M331.4,1000.15 v-14 M417.4,572.45 v14 M417.4,1000.15 v-14 M503.4,572.45 v14 M503.4,1000.15 v-14 M589.4,572.45 v14 M589.4,1000.15 v-14 M107.9,679.3 h14 M675.45,679.3 h-14 M107.9,786.2 h14 M675.45,786.2 h-14 M107.9,893 h14 M675.45,893 h-14" fill="none" stroke="#262626" stroke-width="4.9"/>
<path d="M335,643.75 V679.5" stroke="#0000ff" stroke-width="2" fill="none"/>
<path d="M335,707 L318.7,664.5 L335,677.5 L351.3,664.5 Z" fill="#0000ff"/>
<text x="93.6" y="582.3" font-size="29.3" text-anchor="end" fill="#474443">1</text>
<text x="93.6" y="796" font-size="29.3" text-anchor="end" fill="#474443" textLength="39" lengthAdjust="spacingAndGlyphs">0.5</text>
<text x="93.6" y="1011" font-size="29.3" text-anchor="end" fill="#474443">0</text>
<text x="3.5" y="577.3" font-size="41.67" font-weight="bold" fill="#231815">b</text>
<text transform="translate(25,788.75) rotate(-90)" font-size="29.17" text-anchor="middle" fill="#231815">1 <tspan dx="-0.5">-</tspan> <tspan dx="1" font-style="italic">T</tspan>/<tspan font-style="italic">T</tspan><tspan font-size="21.5" dy="8">0</tspan></text>
<text x="478" y="638" font-size="29.17" fill="#231815"><tspan font-style="italic">x</tspan> = 0.278</text>
</g>
<g id="panel-c">
<clipPath id="cc"><rect x="107.9" y="1057.5" width="567.55" height="427.9"/></clipPath>
<g clip-path="url(#cc)">
<g fill="none" stroke="#ff0000" stroke-width="2.1"><circle cx="142" cy="1155" r="12.8"/><circle cx="150.75" cy="1165.75" r="12.8"/><circle cx="161.25" cy="1185" r="12.8"/><circle cx="172.5" cy="1196.25" r="12.8"/><circle cx="182.5" cy="1215" r="12.8"/><circle cx="193.75" cy="1227.5" r="12.8"/><circle cx="203.75" cy="1234.5" r="12.8"/><circle cx="215" cy="1234.5" r="12.8"/><circle cx="223.75" cy="1235" r="12.8"/><circle cx="241.25" cy="1232.5" r="12.8"/><circle cx="257.5" cy="1229.5" r="12.8"/><circle cx="273.75" cy="1227" r="12.8"/><circle cx="280" cy="1228.75" r="12.8"/><circle cx="291.25" cy="1228.75" r="12.8"/><circle cx="302.5" cy="1227.5" r="12.8"/><circle cx="312.5" cy="1228" r="12.8"/><circle cx="323.75" cy="1226.25" r="12.8"/><circle cx="345" cy="1221.25" r="12.8"/><circle cx="361.25" cy="1213.75" r="12.8"/><circle cx="378.75" cy="1208" r="12.8"/><circle cx="395" cy="1201.25" r="12.8"/><circle cx="411.25" cy="1195" r="12.8"/><circle cx="428.75" cy="1190" r="12.8"/><circle cx="445" cy="1186.25" r="12.8"/><circle cx="461.25" cy="1182.5" r="12.8"/><circle cx="478.75" cy="1181.25" r="12.8"/><circle cx="495" cy="1180" r="12.8"/><circle cx="511.25" cy="1178.75" r="12.8"/><circle cx="527.5" cy="1178" r="12.8"/><circle cx="543.75" cy="1177" r="12.8"/><circle cx="560" cy="1176.25" r="12.8"/><circle cx="577" cy="1176.25" r="12.8"/><circle cx="593.75" cy="1176.25" r="12.8"/><circle cx="610" cy="1177.5" r="12.8"/><circle cx="627" cy="1178" r="12.8"/><circle cx="643.75" cy="1178" r="12.8"/><circle cx="660" cy="1178" r="12.8"/></g>
<g fill="none" stroke="#0000ff" stroke-width="2.1"><rect x="118.25" y="1276.5" width="19.5" height="19.5"/><rect x="125.75" y="1299.5" width="19.5" height="19.5"/><rect x="136.5" y="1313.5" width="19.5" height="19.5"/><rect x="147.25" y="1316.5" width="19.5" height="19.5"/><rect x="158.25" y="1317.25" width="19.5" height="19.5"/><rect x="169" y="1316.5" width="19.5" height="19.5"/><rect x="179.75" y="1308.5" width="19.5" height="19.5"/><rect x="190.75" y="1307.75" width="19.5" height="19.5"/><rect x="201.5" y="1294" width="19.5" height="19.5"/><rect x="212.25" y="1282.25" width="19.5" height="19.5"/><rect x="222.75" y="1266.5" width="19.5" height="19.5"/><rect x="234" y="1253.5" width="19.5" height="19.5"/><rect x="244.75" y="1241.5" width="19.5" height="19.5"/><rect x="255.25" y="1231" width="19.5" height="19.5"/><rect x="266" y="1221.5" width="19.5" height="19.5"/><rect x="276.5" y="1214.75" width="19.5" height="19.5"/><rect x="287.25" y="1204.75" width="19.5" height="19.5"/><rect x="298.25" y="1199.75" width="19.5" height="19.5"/><rect x="309" y="1194" width="19.5" height="19.5"/><rect x="320.25" y="1188.25" width="19.5" height="19.5"/><rect x="325.25" y="1186.5" width="19.5" height="19.5"/><rect x="342.25" y="1175.75" width="19.5" height="19.5"/><rect x="359" y="1168.25" width="19.5" height="19.5"/><rect x="375.25" y="1162.75" width="19.5" height="19.5"/><rect x="392.25" y="1158.25" width="19.5" height="19.5"/><rect x="409" y="1159.75" width="19.5" height="19.5"/><rect x="425.25" y="1157.25" width="19.5" height="19.5"/><rect x="442.25" y="1157.75" width="19.5" height="19.5"/><rect x="459" y="1159" width="19.5" height="19.5"/><rect x="475.25" y="1161.5" width="19.5" height="19.5"/><rect x="492.25" y="1164.75" width="19.5" height="19.5"/><rect x="508.5" y="1171.5" width="19.5" height="19.5"/><rect x="525.25" y="1173.25" width="19.5" height="19.5"/><rect x="541.5" y="1176.5" width="19.5" height="19.5"/><rect x="558.25" y="1180.25" width="19.5" height="19.5"/><rect x="574.75" y="1185.25" width="19.5" height="19.5"/><rect x="591" y="1189" width="19.5" height="19.5"/><rect x="607.75" y="1195.25" width="19.5" height="19.5"/><rect x="624" y="1197.25" width="19.5" height="19.5"/><rect x="640.75" y="1199" width="19.5" height="19.5"/><rect x="657.75" y="1199" width="19.5" height="19.5"/></g>
<path d="M118,1045.6 L119.12,1050.47 L120.23,1055.29 L121.35,1060.04 L122.47,1064.73 L123.58,1069.36 L124.7,1073.92 L125.82,1078.42 L126.93,1082.85 L128.05,1087.22 L129.17,1091.52 L130.28,1095.76 L131.4,1099.93 L132.52,1104.04 L133.63,1108.08 L134.75,1112.05 L135.87,1115.96 L136.98,1119.8 L138.1,1123.57 L139.22,1127.27 L140.33,1130.91 L141.45,1134.47 L142.57,1137.97 L143.68,1141.39 L144.8,1144.75 L145.92,1148.04 L147.04,1151.25 L148.15,1154.4 L149.27,1157.47 L150.39,1160.48 L151.5,1163.41 L152.62,1166.26 L153.74,1169.05 L154.85,1171.76 L155.97,1174.4 L157.09,1176.97 L158.2,1179.46 L159.32,1181.88 L160.44,1184.22 L161.55,1186.49 L162.67,1188.69 L163.79,1190.81 L164.9,1192.87 L166.02,1194.85 L167.14,1196.77 L168.25,1198.62 L169.37,1200.4 L170.49,1202.12 L171.6,1203.78 L172.72,1205.37 L173.84,1206.91 L174.95,1208.38 L176.07,1209.8 L177.19,1211.16 L178.3,1212.46 L179.42,1213.71 L180.54,1214.91 L181.65,1216.06 L182.77,1217.15 L183.89,1218.2 L185,1219.19 L186.12,1220.14 L187.24,1221.05 L188.35,1221.91 L189.47,1222.73 L190.59,1223.51 L191.7,1224.24 L192.82,1224.94 L193.94,1225.6 L195.05,1226.22 L196.17,1226.81 L197.29,1227.36 L198.4,1227.88 L199.52,1228.36 L200.64,1228.82 L201.76,1229.25 L202.87,1229.65 L203.99,1230.02 L205.11,1230.37 L206.22,1230.69 L207.34,1230.99 L208.46,1231.27 L209.57,1231.53 L210.69,1231.77 L211.81,1231.99 L212.92,1232.19 L214.04,1232.38 L215.16,1232.55 L216.27,1232.71 L217.39,1232.85 L218.51,1232.98 L219.62,1233.09 L220.74,1233.19 L221.86,1233.28 L222.97,1233.36 L224.09,1233.42 L225.21,1233.47 L226.32,1233.5 L227.44,1233.53 L228.56,1233.55 L229.67,1233.55 L230.79,1233.54 L231.91,1233.53 L233.02,1233.5 L234.14,1233.47 L235.26,1233.42 L236.37,1233.37 L237.49,1233.31 L238.61,1233.24 L239.72,1233.16 L240.84,1233.08 L241.96,1232.99 L243.07,1232.89 L244.19,1232.78 L245.31,1232.67 L246.42,1232.56 L247.54,1232.44 L248.66,1232.32 L249.77,1232.19 L250.89,1232.05 L252.01,1231.92 L253.12,1231.78 L254.24,1231.63 L255.36,1231.49 L256.47,1231.34 L257.59,1231.19 L258.71,1231.04 L259.83,1230.89 L260.94,1230.74 L262.06,1230.58 L263.18,1230.43 L264.29,1230.28 L265.41,1230.12 L266.53,1229.97 L267.64,1229.82 L268.76,1229.67 L269.88,1229.53 L270.99,1229.39 L272.11,1229.24 L273.23,1229.11 L274.34,1228.97 L275.46,1228.84 L276.58,1228.72 L277.69,1228.59 L278.81,1228.47 L279.93,1228.36 L281.04,1228.24 L282.16,1228.13 L283.28,1228.03 L284.39,1227.92 L285.51,1227.81 L286.63,1227.71 L287.74,1227.6 L288.86,1227.5 L289.98,1227.4 L291.09,1227.3 L292.21,1227.19 L293.33,1227.09 L294.44,1226.98 L295.56,1226.88 L296.68,1226.77 L297.79,1226.66 L298.91,1226.55 L300.03,1226.43 L301.14,1226.31 L302.26,1226.19 L303.38,1226.07 L304.49,1225.94 L305.61,1225.81 L306.73,1225.67 L307.84,1225.53 L308.96,1225.38 L310.08,1225.23 L311.19,1225.07 L312.31,1224.91 L313.43,1224.74 L314.55,1224.56 L315.66,1224.38 L316.78,1224.19 L317.9,1223.99 L319.01,1223.79 L320.13,1223.57 L321.25,1223.35 L322.36,1223.12 L323.48,1222.88 L324.6,1222.63 L325.71,1222.37 L326.83,1222.1 L327.95,1221.82 L329.06,1221.53 L330.18,1221.23 L331.3,1220.93 L332.41,1220.61 L333.53,1220.29 L334.65,1219.96 L335.76,1219.62 L336.88,1219.28 L338,1218.92 L339.11,1218.56 L340.23,1218.2 L341.35,1217.83 L342.46,1217.45 L343.58,1217.06 L344.7,1216.67 L345.81,1216.28 L346.93,1215.87 L348.05,1215.47 L349.16,1215.06 L350.28,1214.64 L351.4,1214.22 L352.51,1213.8 L353.63,1213.38 L354.75,1212.95 L355.86,1212.51 L356.98,1212.08 L358.1,1211.64 L359.21,1211.2 L360.33,1210.75 L361.45,1210.31 L362.56,1209.86 L363.68,1209.41 L364.8,1208.96 L365.91,1208.52 L367.03,1208.06 L368.15,1207.61 L369.27,1207.16 L370.38,1206.71 L371.5,1206.26 L372.62,1205.81 L373.73,1205.36 L374.85,1204.91 L375.97,1204.47 L377.08,1204.02 L378.2,1203.58 L379.32,1203.14 L380.43,1202.7 L381.55,1202.27 L382.67,1201.83 L383.78,1201.4 L384.9,1200.98 L386.02,1200.56 L387.13,1200.14 L388.25,1199.72 L389.37,1199.31 L390.48,1198.91 L391.6,1198.5 L392.72,1198.11 L393.83,1197.71 L394.95,1197.33 L396.07,1196.94 L397.18,1196.56 L398.3,1196.18 L399.42,1195.81 L400.53,1195.44 L401.65,1195.08 L402.77,1194.72 L403.88,1194.37 L405,1194.01 L406.12,1193.67 L407.23,1193.32 L408.35,1192.99 L409.47,1192.65 L410.58,1192.32 L411.7,1191.99 L412.82,1191.67 L413.93,1191.35 L415.05,1191.04 L416.17,1190.73 L417.28,1190.43 L418.4,1190.12 L419.52,1189.83 L420.63,1189.53 L421.75,1189.24 L422.87,1188.96 L423.98,1188.68 L425.1,1188.4 L426.22,1188.13 L427.34,1187.86 L428.45,1187.6 L429.57,1187.34 L430.69,1187.08 L431.8,1186.83 L432.92,1186.58 L434.04,1186.33 L435.15,1186.09 L436.27,1185.86 L437.39,1185.62 L438.5,1185.4 L439.62,1185.17 L440.74,1184.95 L441.85,1184.73 L442.97,1184.52 L444.09,1184.31 L445.2,1184.11 L446.32,1183.91 L447.44,1183.71 L448.55,1183.52 L449.67,1183.33 L450.79,1183.15 L451.9,1182.97 L453.02,1182.79 L454.14,1182.62 L455.25,1182.45 L456.37,1182.28 L457.49,1182.12 L458.6,1181.96 L459.72,1181.81 L460.84,1181.66 L461.95,1181.51 L463.07,1181.37 L464.19,1181.23 L465.3,1181.09 L466.42,1180.96 L467.54,1180.83 L468.65,1180.7 L469.77,1180.58 L470.89,1180.46 L472,1180.34 L473.12,1180.23 L474.24,1180.11 L475.35,1180.01 L476.47,1179.9 L477.59,1179.8 L478.7,1179.7 L479.82,1179.61 L480.94,1179.51 L482.06,1179.42 L483.17,1179.34 L484.29,1179.25 L485.41,1179.17 L486.52,1179.09 L487.64,1179.01 L488.76,1178.94 L489.87,1178.87 L490.99,1178.8 L492.11,1178.73 L493.22,1178.67 L494.34,1178.61 L495.46,1178.55 L496.57,1178.49 L497.69,1178.43 L498.81,1178.38 L499.92,1178.33 L501.04,1178.28 L502.16,1178.24 L503.27,1178.19 L504.39,1178.15 L505.51,1178.11 L506.62,1178.07 L507.74,1178.03 L508.86,1178 L509.97,1177.97 L511.09,1177.93 L512.21,1177.91 L513.32,1177.88 L514.44,1177.85 L515.56,1177.83 L516.67,1177.8 L517.79,1177.78 L518.91,1177.76 L520.02,1177.74 L521.14,1177.73 L522.26,1177.71 L523.37,1177.7 L524.49,1177.68 L525.61,1177.67 L526.72,1177.66 L527.84,1177.65 L528.96,1177.64 L530.07,1177.63 L531.19,1177.63 L532.31,1177.62 L533.42,1177.62 L534.54,1177.61 L535.66,1177.61 L536.78,1177.61 L537.89,1177.61 L539.01,1177.61 L540.13,1177.61 L541.24,1177.61 L542.36,1177.61 L543.48,1177.61 L544.59,1177.61 L545.71,1177.62 L546.83,1177.62 L547.94,1177.62 L549.06,1177.63 L550.18,1177.63 L551.29,1177.64 L552.41,1177.64 L553.53,1177.65 L554.64,1177.65 L555.76,1177.66 L556.88,1177.66 L557.99,1177.67 L559.11,1177.67 L560.23,1177.68 L561.34,1177.69 L562.46,1177.69 L563.58,1177.7 L564.69,1177.7 L565.81,1177.71 L566.93,1177.71 L568.04,1177.71 L569.16,1177.72 L570.28,1177.72 L571.39,1177.72 L572.51,1177.73 L573.63,1177.73 L574.74,1177.73 L575.86,1177.73 L576.98,1177.73 L578.09,1177.73 L579.21,1177.73 L580.33,1177.73 L581.44,1177.73 L582.56,1177.72 L583.68,1177.72 L584.79,1177.72 L585.91,1177.71 L587.03,1177.71 L588.14,1177.7 L589.26,1177.7 L590.38,1177.69 L591.49,1177.69 L592.61,1177.68 L593.73,1177.67 L594.85,1177.67 L595.96,1177.66 L597.08,1177.65 L598.2,1177.64 L599.31,1177.64 L600.43,1177.63 L601.55,1177.62 L602.66,1177.61 L603.78,1177.6 L604.9,1177.59 L606.01,1177.58 L607.13,1177.57 L608.25,1177.56 L609.36,1177.56 L610.48,1177.55 L611.6,1177.54 L612.71,1177.53 L613.83,1177.52 L614.95,1177.51 L616.06,1177.5 L617.18,1177.49 L618.3,1177.48 L619.41,1177.47 L620.53,1177.46 L621.65,1177.45 L622.76,1177.45 L623.88,1177.44 L625,1177.43 L626.11,1177.42 L627.23,1177.41 L628.35,1177.41 L629.46,1177.4 L630.58,1177.39 L631.7,1177.38 L632.81,1177.38 L633.93,1177.37 L635.05,1177.37 L636.16,1177.36 L637.28,1177.36 L638.4,1177.35 L639.51,1177.35 L640.63,1177.35 L641.75,1177.34 L642.86,1177.34 L643.98,1177.34 L645.1,1177.34 L646.21,1177.34 L647.33,1177.34 L648.45,1177.34 L649.57,1177.34 L650.68,1177.34 L651.8,1177.34 L652.92,1177.34 L654.03,1177.35 L655.15,1177.35 L656.27,1177.36 L657.38,1177.36 L658.5,1177.37 L659.62,1177.38 L660.73,1177.39 L661.85,1177.39 L662.97,1177.4 L664.08,1177.42 L665.2,1177.43 L666.32,1177.44 L667.43,1177.45 L668.55,1177.47 L669.67,1177.48 L670.78,1177.5 L671.9,1177.52 L673.02,1177.53 L674.13,1177.55 L675.25,1177.57" fill="none" stroke="#ff0000" stroke-width="4.6" stroke-linejoin="round"/>
<path d="M110.5,1191 L111.63,1197.16 L112.76,1203.17 L113.9,1209.02 L115.03,1214.73 L116.16,1220.29 L117.29,1225.71 L118.42,1230.97 L119.55,1236.09 L120.69,1241.07 L121.82,1245.9 L122.95,1250.59 L124.08,1255.13 L125.21,1259.54 L126.34,1263.81 L127.48,1267.93 L128.61,1271.92 L129.74,1275.78 L130.87,1279.49 L132,1283.08 L133.14,1286.52 L134.27,1289.84 L135.4,1293.02 L136.53,1296.07 L137.66,1299 L138.79,1301.79 L139.93,1304.45 L141.06,1306.99 L142.19,1309.4 L143.32,1311.69 L144.45,1313.85 L145.58,1315.89 L146.72,1317.8 L147.85,1319.6 L148.98,1321.27 L150.11,1322.83 L151.24,1324.27 L152.38,1325.6 L153.51,1326.82 L154.64,1327.94 L155.77,1328.94 L156.9,1329.85 L158.03,1330.65 L159.17,1331.36 L160.3,1331.97 L161.43,1332.49 L162.56,1332.92 L163.69,1333.26 L164.82,1333.51 L165.96,1333.69 L167.09,1333.78 L168.22,1333.79 L169.35,1333.73 L170.48,1333.6 L171.62,1333.39 L172.75,1333.12 L173.88,1332.78 L175.01,1332.37 L176.14,1331.91 L177.27,1331.39 L178.41,1330.81 L179.54,1330.18 L180.67,1329.5 L181.8,1328.77 L182.93,1327.99 L184.06,1327.17 L185.2,1326.31 L186.33,1325.41 L187.46,1324.48 L188.59,1323.51 L189.72,1322.5 L190.86,1321.47 L191.99,1320.41 L193.12,1319.31 L194.25,1318.19 L195.38,1317.04 L196.51,1315.86 L197.65,1314.66 L198.78,1313.43 L199.91,1312.18 L201.04,1310.91 L202.17,1309.62 L203.3,1308.3 L204.44,1306.97 L205.57,1305.62 L206.7,1304.24 L207.83,1302.86 L208.96,1301.46 L210.1,1300.04 L211.23,1298.61 L212.36,1297.17 L213.49,1295.71 L214.62,1294.25 L215.75,1292.78 L216.89,1291.3 L218.02,1289.81 L219.15,1288.31 L220.28,1286.81 L221.41,1285.31 L222.54,1283.8 L223.68,1282.29 L224.81,1280.78 L225.94,1279.27 L227.07,1277.76 L228.2,1276.25 L229.34,1274.74 L230.47,1273.24 L231.6,1271.74 L232.73,1270.25 L233.86,1268.77 L234.99,1267.29 L236.13,1265.82 L237.26,1264.36 L238.39,1262.92 L239.52,1261.48 L240.65,1260.06 L241.78,1258.65 L242.92,1257.26 L244.05,1255.88 L245.18,1254.52 L246.31,1253.18 L247.44,1251.85 L248.58,1250.55 L249.71,1249.27 L250.84,1248.01 L251.97,1246.77 L253.1,1245.55 L254.23,1244.36 L255.37,1243.18 L256.5,1242.03 L257.63,1240.89 L258.76,1239.78 L259.89,1238.69 L261.02,1237.61 L262.16,1236.55 L263.29,1235.51 L264.42,1234.49 L265.55,1233.49 L266.68,1232.5 L267.82,1231.53 L268.95,1230.58 L270.08,1229.64 L271.21,1228.72 L272.34,1227.81 L273.47,1226.92 L274.61,1226.04 L275.74,1225.18 L276.87,1224.33 L278,1223.49 L279.13,1222.66 L280.26,1221.85 L281.4,1221.05 L282.53,1220.26 L283.66,1219.49 L284.79,1218.72 L285.92,1217.97 L287.06,1217.22 L288.19,1216.48 L289.32,1215.76 L290.45,1215.04 L291.58,1214.33 L292.71,1213.63 L293.85,1212.94 L294.98,1212.25 L296.11,1211.58 L297.24,1210.9 L298.37,1210.24 L299.5,1209.58 L300.64,1208.93 L301.77,1208.28 L302.9,1207.63 L304.03,1206.99 L305.16,1206.36 L306.3,1205.73 L307.43,1205.1 L308.56,1204.47 L309.69,1203.85 L310.82,1203.23 L311.95,1202.61 L313.09,1201.99 L314.22,1201.37 L315.35,1200.76 L316.48,1200.14 L317.61,1199.53 L318.74,1198.92 L319.88,1198.31 L321.01,1197.7 L322.14,1197.1 L323.27,1196.49 L324.4,1195.89 L325.54,1195.29 L326.67,1194.7 L327.8,1194.1 L328.93,1193.51 L330.06,1192.93 L331.19,1192.34 L332.33,1191.76 L333.46,1191.18 L334.59,1190.61 L335.72,1190.04 L336.85,1189.47 L337.98,1188.91 L339.12,1188.35 L340.25,1187.79 L341.38,1187.24 L342.51,1186.69 L343.64,1186.15 L344.78,1185.61 L345.91,1185.08 L347.04,1184.55 L348.17,1184.03 L349.3,1183.51 L350.43,1183 L351.57,1182.49 L352.7,1181.98 L353.83,1181.49 L354.96,1180.99 L356.09,1180.51 L357.22,1180.03 L358.36,1179.55 L359.49,1179.09 L360.62,1178.63 L361.75,1178.17 L362.88,1177.72 L364.02,1177.28 L365.15,1176.84 L366.28,1176.42 L367.41,1176 L368.54,1175.58 L369.67,1175.17 L370.81,1174.77 L371.94,1174.38 L373.07,1174 L374.2,1173.62 L375.33,1173.25 L376.46,1172.89 L377.6,1172.54 L378.73,1172.19 L379.86,1171.86 L380.99,1171.53 L382.12,1171.21 L383.26,1170.89 L384.39,1170.59 L385.52,1170.29 L386.65,1170 L387.78,1169.72 L388.91,1169.45 L390.05,1169.18 L391.18,1168.92 L392.31,1168.67 L393.44,1168.43 L394.57,1168.2 L395.7,1167.97 L396.84,1167.75 L397.97,1167.54 L399.1,1167.34 L400.23,1167.14 L401.36,1166.95 L402.49,1166.77 L403.63,1166.6 L404.76,1166.43 L405.89,1166.28 L407.02,1166.13 L408.15,1165.98 L409.29,1165.85 L410.42,1165.72 L411.55,1165.6 L412.68,1165.49 L413.81,1165.39 L414.94,1165.29 L416.08,1165.2 L417.21,1165.12 L418.34,1165.05 L419.47,1164.98 L420.6,1164.92 L421.73,1164.87 L422.87,1164.83 L424,1164.79 L425.13,1164.77 L426.26,1164.74 L427.39,1164.73 L428.53,1164.72 L429.66,1164.73 L430.79,1164.74 L431.92,1164.75 L433.05,1164.77 L434.18,1164.81 L435.32,1164.84 L436.45,1164.89 L437.58,1164.94 L438.71,1165 L439.84,1165.07 L440.97,1165.15 L442.11,1165.23 L443.24,1165.32 L444.37,1165.41 L445.5,1165.52 L446.63,1165.63 L447.77,1165.74 L448.9,1165.86 L450.03,1165.99 L451.16,1166.13 L452.29,1166.27 L453.42,1166.42 L454.56,1166.57 L455.69,1166.73 L456.82,1166.89 L457.95,1167.06 L459.08,1167.24 L460.21,1167.42 L461.35,1167.61 L462.48,1167.8 L463.61,1168 L464.74,1168.2 L465.87,1168.41 L467.01,1168.62 L468.14,1168.84 L469.27,1169.06 L470.4,1169.29 L471.53,1169.52 L472.66,1169.75 L473.8,1169.99 L474.93,1170.24 L476.06,1170.49 L477.19,1170.74 L478.32,1171 L479.45,1171.26 L480.59,1171.52 L481.72,1171.79 L482.85,1172.06 L483.98,1172.33 L485.11,1172.61 L486.25,1172.89 L487.38,1173.18 L488.51,1173.47 L489.64,1173.76 L490.77,1174.05 L491.9,1174.35 L493.04,1174.64 L494.17,1174.95 L495.3,1175.25 L496.43,1175.56 L497.56,1175.87 L498.69,1176.18 L499.83,1176.49 L500.96,1176.8 L502.09,1177.12 L503.22,1177.44 L504.35,1177.76 L505.49,1178.08 L506.62,1178.4 L507.75,1178.73 L508.88,1179.06 L510.01,1179.38 L511.14,1179.71 L512.28,1180.04 L513.41,1180.37 L514.54,1180.7 L515.67,1181.04 L516.8,1181.37 L517.93,1181.7 L519.07,1182.03 L520.2,1182.37 L521.33,1182.7 L522.46,1183.04 L523.59,1183.37 L524.73,1183.71 L525.86,1184.04 L526.99,1184.37 L528.12,1184.71 L529.25,1185.04 L530.38,1185.37 L531.52,1185.71 L532.65,1186.04 L533.78,1186.37 L534.91,1186.7 L536.04,1187.03 L537.17,1187.35 L538.31,1187.68 L539.44,1188.01 L540.57,1188.33 L541.7,1188.65 L542.83,1188.97 L543.97,1189.29 L545.1,1189.61 L546.23,1189.92 L547.36,1190.23 L548.49,1190.55 L549.62,1190.85 L550.76,1191.16 L551.89,1191.47 L553.02,1191.77 L554.15,1192.07 L555.28,1192.36 L556.41,1192.66 L557.55,1192.95 L558.68,1193.24 L559.81,1193.53 L560.94,1193.81 L562.07,1194.1 L563.21,1194.38 L564.34,1194.66 L565.47,1194.93 L566.6,1195.21 L567.73,1195.48 L568.86,1195.75 L570,1196.01 L571.13,1196.28 L572.26,1196.54 L573.39,1196.8 L574.52,1197.05 L575.65,1197.31 L576.79,1197.56 L577.92,1197.81 L579.05,1198.05 L580.18,1198.3 L581.31,1198.54 L582.45,1198.78 L583.58,1199.02 L584.71,1199.25 L585.84,1199.48 L586.97,1199.71 L588.1,1199.94 L589.24,1200.16 L590.37,1200.38 L591.5,1200.6 L592.63,1200.82 L593.76,1201.03 L594.89,1201.24 L596.03,1201.45 L597.16,1201.66 L598.29,1201.86 L599.42,1202.06 L600.55,1202.26 L601.69,1202.46 L602.82,1202.65 L603.95,1202.84 L605.08,1203.03 L606.21,1203.21 L607.34,1203.4 L608.48,1203.58 L609.61,1203.75 L610.74,1203.93 L611.87,1204.1 L613,1204.27 L614.13,1204.44 L615.27,1204.6 L616.4,1204.76 L617.53,1204.92 L618.66,1205.08 L619.79,1205.23 L620.93,1205.38 L622.06,1205.53 L623.19,1205.67 L624.32,1205.81 L625.45,1205.95 L626.58,1206.09 L627.72,1206.23 L628.85,1206.36 L629.98,1206.49 L631.11,1206.61 L632.24,1206.73 L633.37,1206.85 L634.51,1206.97 L635.64,1207.09 L636.77,1207.2 L637.9,1207.31 L639.03,1207.41 L640.17,1207.52 L641.3,1207.62 L642.43,1207.72 L643.56,1207.81 L644.69,1207.9 L645.82,1207.99 L646.96,1208.08 L648.09,1208.16 L649.22,1208.24 L650.35,1208.32 L651.48,1208.39 L652.61,1208.47 L653.75,1208.54 L654.88,1208.6 L656.01,1208.66 L657.14,1208.73 L658.27,1208.78 L659.41,1208.84 L660.54,1208.89 L661.67,1208.94 L662.8,1208.98 L663.93,1209.03 L665.06,1209.06 L666.2,1209.1 L667.33,1209.14 L668.46,1209.17 L669.59,1209.19 L670.72,1209.22 L671.85,1209.24 L672.99,1209.26 L674.12,1209.27 L675.25,1209.29" fill="none" stroke="#0000ff" stroke-width="4.6" stroke-linejoin="round"/>
</g>
<rect x="107.9" y="1057.5" width="567.55" height="427.9" fill="none" stroke="#262626" stroke-width="4.9"/>
<path d="M159.4,1057.5 v14 M159.4,1485.4 v-14 M245.4,1057.5 v14 M245.4,1485.4 v-14 M331.4,1057.5 v14 M331.4,1485.4 v-14 M417.4,1057.5 v14 M417.4,1485.4 v-14 M503.4,1057.5 v14 M503.4,1485.4 v-14 M589.4,1057.5 v14 M589.4,1485.4 v-14 M107.9,1164.5 h14 M675.45,1164.5 h-14 M107.9,1271.3 h14 M675.45,1271.3 h-14 M107.9,1378.2 h14 M675.45,1378.2 h-14" fill="none" stroke="#262626" stroke-width="4.9"/>
<path d="M282,1142 V1177.5" stroke="#0000ff" stroke-width="2" fill="none"/>
<path d="M282,1205 L265.7,1162.5 L282,1175.5 L298.3,1162.5 Z" fill="#0000ff"/>
<text x="93.6" y="1064.8" font-size="29.3" text-anchor="end" fill="#474443" textLength="39" lengthAdjust="spacingAndGlyphs">0.6</text>
<text x="93.6" y="1281.1" font-size="29.3" text-anchor="end" fill="#474443" textLength="39" lengthAdjust="spacingAndGlyphs">0.3</text>
<text x="93.6" y="1496.3" font-size="29.3" text-anchor="end" fill="#474443">0</text>
<text x="245.4" y="1521.6" font-size="29.3" text-anchor="middle" fill="#474443">400</text>
<text x="417" y="1521.6" font-size="29.3" text-anchor="middle" fill="#474443">800</text>
<text x="589.3" y="1521.6" font-size="29.3" text-anchor="middle" fill="#474443">1200</text>
<text x="3.5" y="1052" font-size="41.67" font-weight="bold" fill="#231815">c</text>
<text transform="translate(25,1274.75) rotate(-90)" font-size="29.17" text-anchor="middle" fill="#231815">1 <tspan dx="-0.5">-</tspan> <tspan dx="1" font-style="italic">T</tspan>/<tspan font-style="italic">T</tspan><tspan font-size="21.5" dy="8">0</tspan></text>
<text x="497.5" y="1121.25" font-size="29.17" fill="#231815"><tspan font-style="italic">x</tspan> = 0.5</text>
<text x="391.5" y="1569.5" font-size="29.17" text-anchor="middle" fill="#231815">Frequency (cm<tspan font-size="20.5" dy="-12.6">−1</tspan><tspan dy="12.6">)</tspan></text>
</g>
<g id="panel-d">
<clipPath id="cd"><rect x="797.6" y="82.5" width="416.85" height="427.75"/></clipPath>
<rect x="1047" y="82.5" width="102.4" height="427.75" fill="#c6c6c6"/>
<path d="M797.6,448.9 H1214.45" stroke="#000" stroke-width="4.3" stroke-dasharray="16.3 16.76" fill="none"/>
<g clip-path="url(#cd)">
<path d="M797.6,448.9 L797.6,448.87 L797.61,448.77 L797.62,448.6 L797.63,448.37 L797.64,448.08 L797.66,447.71 L797.68,447.28 L797.71,446.79 L797.74,446.23 L797.77,445.6 L797.8,444.91 L797.84,444.15 L797.88,443.33 L797.93,442.43 L797.98,441.48 L798.03,440.46 L798.08,439.37 L798.14,438.21 L798.2,436.99 L798.27,435.71 L798.34,434.36 L798.41,432.94 L798.49,431.46 L798.56,429.91 L798.65,428.3 L798.73,426.62 L798.82,424.88 L798.91,423.07 L799.01,421.2 L799.11,419.26 L799.21,417.26 L799.31,415.2 L799.42,413.07 L799.54,410.88 L799.65,408.62 L799.77,406.31 L799.89,403.93 L800.02,401.49 L800.15,398.98 L800.28,396.42 L800.41,393.79 L800.55,391.11 L800.7,388.37 L800.84,385.57 L800.99,382.71 L801.14,379.79 L801.3,376.82 L801.46,373.79 L801.62,370.7 L801.79,367.57 L801.95,364.38 L802.13,361.14 L802.3,357.85 L802.48,354.51 L802.66,351.12 L802.85,347.68 L803.04,344.2 L803.23,340.67 L803.43,337.11 L803.63,333.5 L803.83,329.85 L804.04,326.16 L804.24,322.44 L804.46,318.68 L804.67,314.89 L804.89,311.07 L805.11,307.22 L805.34,303.35 L805.57,299.45 L805.8,295.52 L806.04,291.58 L806.28,287.62 L806.52,283.64 L806.77,279.65 L807.02,275.65 L807.27,271.64 L807.53,267.62 L807.79,263.6 L808.05,259.58 L808.31,255.56 L808.58,251.55 L808.86,247.54 L809.13,243.54 L809.41,239.55 L809.7,235.58 L809.98,231.62 L810.27,227.69 L810.56,223.77 L810.86,219.89 L811.16,216.03 L811.46,212.2 L811.77,208.41 L812.08,204.65 L812.39,200.93 L812.71,197.25 L813.03,193.62 L813.35,190.04 L813.68,186.5 L814.01,183.01 L814.34,179.58 L814.68,176.2 L815.02,172.88 L815.36,169.63 L815.71,166.43 L816.06,163.3 L816.41,160.24 L816.77,157.24 L817.13,154.31 L817.49,151.46 L817.86,148.68 L818.23,145.97 L818.6,143.34 L818.98,140.78 L819.36,138.31 L819.74,135.91 L820.13,133.59 L820.52,131.36 L820.91,129.21 L821.31,127.14 L821.71,125.15 L822.11,123.24 L822.52,121.43 L822.93,119.69 L823.34,118.04 L823.76,116.47 L824.18,114.99 L824.6,113.6 L825.03,112.28 L825.46,111.05 L825.89,109.91 L826.33,108.84 L826.77,107.86 L827.21,106.97 L827.66,106.15 L828.11,105.41 L828.56,104.75 L829.02,104.17 L829.48,103.67 L829.95,103.25 L830.41,102.9 L830.88,102.62 L831.36,102.42 L831.83,102.29 L832.31,102.23 L832.8,102.24 L833.28,102.31 L833.78,102.46 L834.27,102.67 L834.77,102.94 L835.27,103.28 L835.77,103.67 L836.28,104.13 L836.79,104.64 L837.3,105.21 L837.82,105.84 L838.34,106.52 L838.86,107.25 L839.39,108.03 L839.92,108.86 L840.46,109.73 L840.99,110.66 L841.53,111.63 L842.08,112.64 L842.63,113.69 L843.18,114.78 L843.73,115.91 L844.29,117.08 L844.85,118.29 L845.41,119.53 L845.98,120.8 L846.55,122.1 L847.13,123.44 L847.7,124.8 L848.28,126.19 L848.87,127.61 L849.46,129.06 L850.05,130.52 L850.64,132.02 L851.24,133.53 L851.84,135.06 L852.44,136.62 L853.05,138.19 L853.66,139.78 L854.28,141.39 L854.9,143.01 L855.52,144.65 L856.14,146.3 L856.77,147.97 L857.4,149.64 L858.03,151.33 L858.67,153.03 L859.31,154.74 L859.96,156.45 L860.61,158.18 L861.26,159.91 L861.91,161.64 L862.57,163.39 L863.23,165.14 L863.9,166.89 L864.56,168.65 L865.23,170.41 L865.91,172.17 L866.59,173.94 L867.27,175.71 L867.95,177.47 L868.64,179.24 L869.33,181.01 L870.03,182.78 L870.73,184.55 L871.43,186.32 L872.13,188.08 L872.84,189.84 L873.55,191.61 L874.27,193.36 L874.98,195.12 L875.71,196.87 L876.43,198.62 L877.16,200.36 L877.89,202.1 L878.63,203.84 L879.36,205.57 L880.11,207.3 L880.85,209.02 L881.6,210.73 L882.35,212.44 L883.11,214.14 L883.86,215.84 L884.63,217.53 L885.39,219.22 L886.16,220.9 L886.93,222.57 L887.71,224.23 L888.48,225.89 L889.27,227.54 L890.05,229.18 L890.84,230.82 L891.63,232.45 L892.43,234.07 L893.23,235.68 L894.03,237.28 L894.83,238.88 L895.64,240.47 L896.45,242.05 L897.27,243.63 L898.09,245.19 L898.91,246.75 L899.73,248.3 L900.56,249.84 L901.4,251.37 L902.23,252.9 L903.07,254.42 L903.91,255.93 L904.76,257.43 L905.61,258.92 L906.46,260.4 L907.31,261.88 L908.17,263.34 L909.03,264.8 L909.9,266.25 L910.77,267.7 L911.64,269.13 L912.52,270.56 L913.4,271.98 L914.28,273.39 L915.16,274.79 L916.05,276.18 L916.94,277.57 L917.84,278.95 L918.74,280.32 L919.64,281.68 L920.55,283.03 L921.46,284.38 L922.37,285.71 L923.28,287.04 L924.2,288.37 L925.13,289.68 L926.05,290.99 L926.98,292.29 L927.91,293.58 L928.85,294.86 L929.79,296.14 L930.73,297.41 L931.68,298.67 L932.63,299.93 L933.58,301.17 L934.53,302.41 L935.49,303.64 L936.46,304.87 L937.42,306.09 L938.39,307.3 L939.36,308.5 L940.34,309.7 L941.32,310.89 L942.3,312.08 L943.29,313.25 L944.28,314.42 L945.27,315.59 L946.27,316.74 L947.27,317.89 L948.27,319.04 L949.27,320.17 L950.28,321.31 L951.3,322.43 L952.31,323.55 L953.33,324.66 L954.36,325.77 L955.38,326.87 L956.41,327.96 L957.44,329.05 L958.48,330.13 L959.52,331.21 L960.56,332.28 L961.61,333.34 L962.66,334.4 L963.71,335.46 L964.77,336.5 L965.83,337.55 L966.89,338.58 L967.96,339.62 L969.03,340.64 L970.1,341.66 L971.18,342.68 L972.26,343.69 L973.34,344.69 L974.43,345.69 L975.52,346.69 L976.61,347.68 L977.71,348.66 L978.81,349.64 L979.91,350.62 L981.01,351.59 L982.12,352.56 L983.24,353.52 L984.35,354.48 L985.47,355.43 L986.6,356.38 L987.72,357.32 L988.85,358.26 L989.99,359.19 L991.12,360.12 L992.26,361.05 L993.41,361.97 L994.55,362.89 L995.71,363.8 L996.86,364.71 L998.02,365.62 L999.18,366.52 L1000.34,367.41 L1001.51,368.31 L1002.68,369.2 L1003.85,370.08 L1005.03,370.97 L1006.21,371.84 L1007.39,372.72 L1008.58,373.59 L1009.77,374.46 L1010.96,375.32 L1012.16,376.18 L1013.36,377.04 L1014.56,377.89 L1015.77,378.74 L1016.98,379.59 L1018.19,380.43 L1019.41,381.28 L1020.63,382.11 L1021.85,382.95 L1023.08,383.78 L1024.31,384.61 L1025.55,385.43 L1026.78,386.25 L1028.02,387.07 L1029.27,387.89 L1030.51,388.7 L1031.76,389.51 L1033.02,390.32 L1034.28,391.12 L1035.54,391.93 L1036.8,392.73 L1038.07,393.52 L1039.34,394.32 L1040.61,395.11 L1041.89,395.9 L1043.17,396.68 L1044.45,397.47 L1045.74,398.25 L1047.03,399.03 L1048.33,399.81 L1049.62,400.58 L1050.92,401.35 L1052.23,402.12 L1053.54,402.89 L1054.85,403.65 L1056.16,404.42 L1057.48,405.18 L1058.8,405.94 L1060.12,406.69 L1061.45,407.45 L1062.78,408.2 L1064.12,408.95 L1065.45,409.7 L1066.8,410.45 L1068.14,411.19 L1069.49,411.93 L1070.84,412.68 L1072.19,413.41 L1073.55,414.15 L1074.91,414.89 L1076.28,415.62 L1077.64,416.35 L1079.01,417.08 L1080.39,417.81 L1081.77,418.54 L1083.15,419.27 L1084.53,419.99 L1085.92,420.71 L1087.31,421.43 L1088.71,422.15 L1090.1,422.87 L1091.5,423.59 L1092.91,424.3 L1094.32,425.01 L1095.73,425.73 L1097.14,426.44 L1098.56,427.14 L1099.98,427.85 L1101.41,428.55 L1102.84,429.25 L1104.27,429.95 L1105.7,430.65 L1107.14,431.34 L1108.58,432.03 L1110.03,432.72 L1111.47,433.4 L1112.92,434.09 L1114.38,434.77 L1115.84,435.44 L1117.3,436.11 L1118.76,436.78 L1120.23,437.45 L1121.7,438.11 L1123.18,438.76 L1124.66,439.41 L1126.14,440.06 L1127.62,440.71 L1129.11,441.35 L1130.6,441.98 L1132.1,442.61 L1133.6,443.23 L1135.1,443.85 L1136.6,444.47 L1138.11,445.07 L1139.62,445.68 L1141.14,446.27 L1142.66,446.86 L1144.18,447.45 L1145.7,448.03 L1147.23,448.6 L1148.76,449.16 L1150.3,449.72 L1151.84,450.27 L1153.38,450.81 L1154.92,451.35 L1156.47,451.88 L1158.02,452.4 L1159.58,452.91 L1161.14,453.42 L1162.7,453.91 L1164.27,454.4 L1165.83,454.88 L1167.41,455.35 L1168.98,455.81 L1170.56,456.26 L1172.14,456.7 L1173.73,457.14 L1175.32,457.56 L1176.91,457.97 L1178.5,458.37 L1180.1,458.76 L1181.7,459.14 L1183.31,459.5 L1184.92,459.86 L1186.53,460.2 L1188.15,460.53 L1189.77,460.85 L1191.39,461.15 L1193.01,461.44 L1194.64,461.71 L1196.27,461.97 L1197.91,462.22 L1199.55,462.44 L1201.19,462.66 L1202.84,462.85 L1204.49,463.03 L1206.14,463.19 L1207.79,463.34 L1209.45,463.46 L1211.12,463.57 L1212.78,463.66 L1214.45,463.72" fill="none" stroke="#ff0000" stroke-width="4.3" stroke-linejoin="round"/>
<path d="M797.6,448.9 L797.6,448.89 L797.61,448.84 L797.62,448.78 L797.63,448.68 L797.64,448.55 L797.66,448.4 L797.68,448.22 L797.71,448.02 L797.74,447.78 L797.77,447.52 L797.8,447.23 L797.84,446.91 L797.88,446.56 L797.93,446.19 L797.98,445.79 L798.03,445.36 L798.08,444.91 L798.14,444.42 L798.2,443.91 L798.27,443.37 L798.34,442.81 L798.41,442.21 L798.49,441.59 L798.56,440.94 L798.65,440.27 L798.73,439.57 L798.82,438.84 L798.91,438.08 L799.01,437.29 L799.11,436.48 L799.21,435.65 L799.31,434.78 L799.42,433.89 L799.54,432.97 L799.65,432.03 L799.77,431.06 L799.89,430.06 L800.02,429.04 L800.15,427.99 L800.28,426.92 L800.41,425.82 L800.55,424.7 L800.7,423.55 L800.84,422.38 L800.99,421.18 L801.14,419.96 L801.3,418.72 L801.46,417.45 L801.62,416.16 L801.79,414.85 L801.95,413.52 L802.13,412.17 L802.3,410.79 L802.48,409.4 L802.66,407.98 L802.85,406.55 L803.04,405.1 L803.23,403.63 L803.43,402.14 L803.63,400.64 L803.83,399.12 L804.04,397.58 L804.24,396.03 L804.46,394.47 L804.67,392.89 L804.89,391.3 L805.11,389.7 L805.34,388.09 L805.57,386.48 L805.8,384.85 L806.04,383.21 L806.28,381.57 L806.52,379.92 L806.77,378.27 L807.02,376.62 L807.27,374.96 L807.53,373.3 L807.79,371.64 L808.05,369.99 L808.31,368.33 L808.58,366.68 L808.86,365.03 L809.13,363.38 L809.41,361.75 L809.7,360.12 L809.98,358.5 L810.27,356.89 L810.56,355.29 L810.86,353.7 L811.16,352.13 L811.46,350.57 L811.77,349.03 L812.08,347.5 L812.39,345.99 L812.71,344.5 L813.03,343.03 L813.35,341.59 L813.68,340.16 L814.01,338.76 L814.34,337.38 L814.68,336.02 L815.02,334.69 L815.36,333.39 L815.71,332.12 L816.06,330.87 L816.41,329.66 L816.77,328.47 L817.13,327.31 L817.49,326.19 L817.86,325.1 L818.23,324.03 L818.6,323.01 L818.98,322.01 L819.36,321.05 L819.74,320.12 L820.13,319.23 L820.52,318.37 L820.91,317.55 L821.31,316.77 L821.71,316.01 L822.11,315.3 L822.52,314.62 L822.93,313.97 L823.34,313.36 L823.76,312.79 L824.18,312.25 L824.6,311.75 L825.03,311.28 L825.46,310.85 L825.89,310.45 L826.33,310.09 L826.77,309.76 L827.21,309.46 L827.66,309.2 L828.11,308.97 L828.56,308.78 L829.02,308.61 L829.48,308.48 L829.95,308.38 L830.41,308.31 L830.88,308.28 L831.36,308.27 L831.83,308.29 L832.31,308.34 L832.8,308.41 L833.28,308.52 L833.78,308.65 L834.27,308.81 L834.77,308.99 L835.27,309.2 L835.77,309.44 L836.28,309.69 L836.79,309.97 L837.3,310.28 L837.82,310.6 L838.34,310.95 L838.86,311.32 L839.39,311.7 L839.92,312.11 L840.46,312.54 L840.99,312.98 L841.53,313.44 L842.08,313.92 L842.63,314.41 L843.18,314.92 L843.73,315.45 L844.29,315.99 L844.85,316.54 L845.41,317.11 L845.98,317.69 L846.55,318.28 L847.13,318.88 L847.7,319.5 L848.28,320.13 L848.87,320.76 L849.46,321.41 L850.05,322.06 L850.64,322.73 L851.24,323.4 L851.84,324.08 L852.44,324.77 L853.05,325.47 L853.66,326.17 L854.28,326.88 L854.9,327.59 L855.52,328.31 L856.14,329.04 L856.77,329.76 L857.4,330.5 L858.03,331.24 L858.67,331.98 L859.31,332.72 L859.96,333.47 L860.61,334.23 L861.26,334.98 L861.91,335.74 L862.57,336.49 L863.23,337.26 L863.9,338.02 L864.56,338.78 L865.23,339.55 L865.91,340.31 L866.59,341.08 L867.27,341.84 L867.95,342.61 L868.64,343.38 L869.33,344.14 L870.03,344.91 L870.73,345.68 L871.43,346.44 L872.13,347.21 L872.84,347.97 L873.55,348.74 L874.27,349.5 L874.98,350.26 L875.71,351.02 L876.43,351.78 L877.16,352.53 L877.89,353.29 L878.63,354.04 L879.36,354.79 L880.11,355.54 L880.85,356.29 L881.6,357.04 L882.35,357.78 L883.11,358.52 L883.86,359.26 L884.63,360 L885.39,360.73 L886.16,361.46 L886.93,362.19 L887.71,362.92 L888.48,363.64 L889.27,364.36 L890.05,365.08 L890.84,365.8 L891.63,366.51 L892.43,367.22 L893.23,367.93 L894.03,368.63 L894.83,369.34 L895.64,370.04 L896.45,370.73 L897.27,371.43 L898.09,372.12 L898.91,372.81 L899.73,373.49 L900.56,374.17 L901.4,374.85 L902.23,375.53 L903.07,376.2 L903.91,376.87 L904.76,377.54 L905.61,378.21 L906.46,378.87 L907.31,379.53 L908.17,380.18 L909.03,380.84 L909.9,381.49 L910.77,382.14 L911.64,382.78 L912.52,383.42 L913.4,384.06 L914.28,384.7 L915.16,385.34 L916.05,385.97 L916.94,386.6 L917.84,387.22 L918.74,387.85 L919.64,388.47 L920.55,389.08 L921.46,389.7 L922.37,390.31 L923.28,390.92 L924.2,391.53 L925.13,392.14 L926.05,392.74 L926.98,393.34 L927.91,393.94 L928.85,394.54 L929.79,395.13 L930.73,395.72 L931.68,396.31 L932.63,396.9 L933.58,397.48 L934.53,398.06 L935.49,398.64 L936.46,399.22 L937.42,399.8 L938.39,400.37 L939.36,400.94 L940.34,401.51 L941.32,402.08 L942.3,402.64 L943.29,403.21 L944.28,403.77 L945.27,404.33 L946.27,404.88 L947.27,405.44 L948.27,405.99 L949.27,406.55 L950.28,407.1 L951.3,407.64 L952.31,408.19 L953.33,408.74 L954.36,409.28 L955.38,409.82 L956.41,410.36 L957.44,410.9 L958.48,411.44 L959.52,411.97 L960.56,412.51 L961.61,413.04 L962.66,413.57 L963.71,414.1 L964.77,414.63 L965.83,415.15 L966.89,415.68 L967.96,416.2 L969.03,416.72 L970.1,417.25 L971.18,417.77 L972.26,418.29 L973.34,418.8 L974.43,419.32 L975.52,419.84 L976.61,420.35 L977.71,420.86 L978.81,421.38 L979.91,421.89 L981.01,422.4 L982.12,422.91 L983.24,423.41 L984.35,423.92 L985.47,424.43 L986.6,424.93 L987.72,425.44 L988.85,425.94 L989.99,426.45 L991.12,426.95 L992.26,427.45 L993.41,427.95 L994.55,428.45 L995.71,428.95 L996.86,429.45 L998.02,429.95 L999.18,430.44 L1000.34,430.94 L1001.51,431.44 L1002.68,431.93 L1003.85,432.43 L1005.03,432.92 L1006.21,433.42 L1007.39,433.91 L1008.58,434.4 L1009.77,434.9 L1010.96,435.39 L1012.16,435.88 L1013.36,436.37 L1014.56,436.86 L1015.77,437.35 L1016.98,437.85 L1018.19,438.34 L1019.41,438.83 L1020.63,439.32 L1021.85,439.81 L1023.08,440.29 L1024.31,440.78 L1025.55,441.27 L1026.78,441.76 L1028.02,442.25 L1029.27,442.74 L1030.51,443.23 L1031.76,443.72 L1033.02,444.21 L1034.28,444.69 L1035.54,445.18 L1036.8,445.67 L1038.07,446.16 L1039.34,446.65 L1040.61,447.14 L1041.89,447.63 L1043.17,448.11 L1044.45,448.6 L1045.74,449.09 L1047.03,449.58 L1048.33,450.07 L1049.62,450.56 L1050.92,451.05 L1052.23,451.54 L1053.54,452.03 L1054.85,452.52 L1056.16,453.01 L1057.48,453.5 L1058.8,453.99 L1060.12,454.48 L1061.45,454.98 L1062.78,455.47 L1064.12,455.96 L1065.45,456.45 L1066.8,456.95 L1068.14,457.44 L1069.49,457.93 L1070.84,458.43 L1072.19,458.92 L1073.55,459.42 L1074.91,459.91 L1076.28,460.41 L1077.64,460.91 L1079.01,461.4 L1080.39,461.9 L1081.77,462.4 L1083.15,462.9 L1084.53,463.4 L1085.92,463.9 L1087.31,464.4 L1088.71,464.9 L1090.1,465.4 L1091.5,465.9 L1092.91,466.41 L1094.32,466.91 L1095.73,467.41 L1097.14,467.92 L1098.56,468.42 L1099.98,468.93 L1101.41,469.44 L1102.84,469.95 L1104.27,470.45 L1105.7,470.96 L1107.14,471.47 L1108.58,471.98 L1110.03,472.5 L1111.47,473.01 L1112.92,473.52 L1114.38,474.03 L1115.84,474.55 L1117.3,475.07 L1118.76,475.58 L1120.23,476.1 L1121.7,476.62 L1123.18,477.14 L1124.66,477.66 L1126.14,478.18 L1127.62,478.7 L1129.11,479.22 L1130.6,479.74 L1132.1,480.26 L1133.6,480.79 L1135.1,481.3 L1136.6,481.82 L1138.11,482.33 L1139.62,482.84 L1141.14,483.34 L1142.66,483.84 L1144.18,484.33 L1145.7,484.81 L1147.23,485.28 L1148.76,485.75 L1150.3,486.2 L1151.84,486.65 L1153.38,487.08 L1154.92,487.5 L1156.47,487.9 L1158.02,488.29 L1159.58,488.67 L1161.14,489.03 L1162.7,489.37 L1164.27,489.69 L1165.83,490 L1167.41,490.28 L1168.98,490.54 L1170.56,490.78 L1172.14,491 L1173.73,491.2 L1175.32,491.36 L1176.91,491.51 L1178.5,491.62 L1180.1,491.71 L1181.7,491.76 L1183.31,491.79 L1184.92,491.79 L1186.53,491.75 L1188.15,491.68 L1189.77,491.57 L1191.39,491.43 L1193.01,491.25 L1194.64,491.03 L1196.27,490.77 L1197.91,490.47 L1199.55,490.13 L1201.19,489.74 L1202.84,489.32 L1204.49,488.84 L1206.14,488.32 L1207.79,487.75 L1209.45,487.13 L1211.12,486.46 L1212.78,485.74 L1214.45,484.96" fill="none" stroke="#0000ff" stroke-width="4.3" stroke-linejoin="round"/>
</g>
<rect x="797.6" y="82.5" width="416.85" height="427.75" fill="none" stroke="#262626" stroke-width="4.9"/>
<path d="M916.3,82.5 v11.5 M916.3,510.25 v-11.5 M1035.2,82.5 v11.5 M1035.2,510.25 v-11.5 M1154.3,82.5 v11.5 M1154.3,510.25 v-11.5 M797.6,123.25 h11.5 M1214.45,123.25 h-11.5 M797.6,204.5 h11.5 M1214.45,204.5 h-11.5 M797.6,285.9 h11.5 M1214.45,285.9 h-11.5 M797.6,367.2 h11.5 M1214.45,367.2 h-11.5 M797.6,448.6 h11.5 M1214.45,448.6 h-11.5 M797.6,489.5 h11.5 M1214.45,489.5 h-11.5" fill="none" stroke="#262626" stroke-width="4.9"/>
<text x="783" y="134.25" font-size="29.3" text-anchor="end" fill="#474443">32</text>
<text x="783" y="215.5" font-size="29.3" text-anchor="end" fill="#474443">24</text>
<text x="783" y="296.9" font-size="29.3" text-anchor="end" fill="#474443">16</text>
<text x="783" y="378.2" font-size="29.3" text-anchor="end" fill="#474443">8</text>
<text x="783" y="459.6" font-size="29.3" text-anchor="end" fill="#474443">0</text>
<text x="783" y="500.5" font-size="29.3" text-anchor="end" fill="#474443">−4</text>
<text x="710" y="35.75" font-size="41.67" font-weight="bold" fill="#231815">d</text>
<text transform="translate(730,295.5) rotate(-90)" font-size="29.17" text-anchor="middle" fill="#231815">Im. <tspan class="sy">σ</tspan> (mS)</text>
<path d="M995.5,132 H1057.5" stroke="#ff0000" stroke-width="4.2"/>
<path d="M995.5,176.9 H1057.5" stroke="#0000ff" stroke-width="4.2"/>
<text x="1069" y="142" font-size="29.17" fill="#231815">Poalr. <tspan font-style="italic">a</tspan></text>
<text x="1069" y="187" font-size="29.17" fill="#231815">Polar. <tspan font-style="italic">b</tspan></text>
</g>
<g id="panel-e">
<clipPath id="ce"><rect x="797.6" y="572.45" width="416.85" height="427.55"/></clipPath>
<rect x="985.5" y="572.45" width="190" height="427.55" fill="#c6c6c6"/>
<path d="M797.6,907.0 H1214.45" stroke="#000" stroke-width="4.3" stroke-dasharray="16.3 16.76" fill="none"/>
<g clip-path="url(#ce)">
<path d="M797.6,906.9 L797.6,906.88 L797.61,906.82 L797.62,906.72 L797.63,906.58 L797.64,906.4 L797.66,906.18 L797.68,905.93 L797.71,905.63 L797.74,905.29 L797.77,904.91 L797.8,904.5 L797.84,904.04 L797.88,903.54 L797.93,903.01 L797.98,902.43 L798.03,901.81 L798.08,901.16 L798.14,900.46 L798.2,899.73 L798.27,898.95 L798.34,898.14 L798.41,897.28 L798.49,896.39 L798.56,895.46 L798.65,894.49 L798.73,893.47 L798.82,892.42 L798.91,891.33 L799.01,890.2 L799.11,889.03 L799.21,887.82 L799.31,886.57 L799.42,885.29 L799.54,883.96 L799.65,882.6 L799.77,881.19 L799.89,879.75 L800.02,878.27 L800.15,876.75 L800.28,875.19 L800.41,873.6 L800.55,871.96 L800.7,870.29 L800.84,868.58 L800.99,866.84 L801.14,865.05 L801.3,863.23 L801.46,861.38 L801.62,859.49 L801.79,857.56 L801.95,855.59 L802.13,853.6 L802.3,851.56 L802.48,849.49 L802.66,847.39 L802.85,845.25 L803.04,843.09 L803.23,840.88 L803.43,838.65 L803.63,836.38 L803.83,834.09 L804.04,831.76 L804.24,829.4 L804.46,827.01 L804.67,824.6 L804.89,822.15 L805.11,819.68 L805.34,817.18 L805.57,814.66 L805.8,812.11 L806.04,809.53 L806.28,806.94 L806.52,804.31 L806.77,801.67 L807.02,799.01 L807.27,796.33 L807.53,793.62 L807.79,790.9 L808.05,788.17 L808.31,785.41 L808.58,782.64 L808.86,779.86 L809.13,777.07 L809.41,774.26 L809.7,771.44 L809.98,768.62 L810.27,765.78 L810.56,762.94 L810.86,760.1 L811.16,757.25 L811.46,754.39 L811.77,751.54 L812.08,748.68 L812.39,745.83 L812.71,742.98 L813.03,740.13 L813.35,737.29 L813.68,734.45 L814.01,731.62 L814.34,728.8 L814.68,725.99 L815.02,723.19 L815.36,720.41 L815.71,717.64 L816.06,714.89 L816.41,712.16 L816.77,709.44 L817.13,706.74 L817.49,704.07 L817.86,701.42 L818.23,698.79 L818.6,696.19 L818.98,693.62 L819.36,691.08 L819.74,688.56 L820.13,686.08 L820.52,683.62 L820.91,681.21 L821.31,678.82 L821.71,676.47 L822.11,674.16 L822.52,671.89 L822.93,669.65 L823.34,667.46 L823.76,665.3 L824.18,663.19 L824.6,661.12 L825.03,659.09 L825.46,657.11 L825.89,655.17 L826.33,653.28 L826.77,651.43 L827.21,649.63 L827.66,647.88 L828.11,646.18 L828.56,644.53 L829.02,642.92 L829.48,641.37 L829.95,639.86 L830.41,638.41 L830.88,637 L831.36,635.65 L831.83,634.35 L832.31,633.1 L832.8,631.9 L833.28,630.75 L833.78,629.66 L834.27,628.61 L834.77,627.62 L835.27,626.68 L835.77,625.78 L836.28,624.94 L836.79,624.15 L837.3,623.41 L837.82,622.73 L838.34,622.09 L838.86,621.5 L839.39,620.96 L839.92,620.46 L840.46,620.02 L840.99,619.62 L841.53,619.27 L842.08,618.97 L842.63,618.72 L843.18,618.51 L843.73,618.34 L844.29,618.22 L844.85,618.14 L845.41,618.11 L845.98,618.12 L846.55,618.17 L847.13,618.26 L847.7,618.39 L848.28,618.56 L848.87,618.77 L849.46,619.02 L850.05,619.3 L850.64,619.62 L851.24,619.98 L851.84,620.37 L852.44,620.8 L853.05,621.26 L853.66,621.76 L854.28,622.28 L854.9,622.84 L855.52,623.42 L856.14,624.04 L856.77,624.69 L857.4,625.36 L858.03,626.06 L858.67,626.79 L859.31,627.54 L859.96,628.32 L860.61,629.13 L861.26,629.95 L861.91,630.8 L862.57,631.67 L863.23,632.57 L863.9,633.48 L864.56,634.42 L865.23,635.37 L865.91,636.34 L866.59,637.33 L867.27,638.34 L867.95,639.36 L868.64,640.41 L869.33,641.46 L870.03,642.53 L870.73,643.62 L871.43,644.72 L872.13,645.83 L872.84,646.96 L873.55,648.09 L874.27,649.24 L874.98,650.4 L875.71,651.57 L876.43,652.75 L877.16,653.94 L877.89,655.14 L878.63,656.35 L879.36,657.56 L880.11,658.79 L880.85,660.02 L881.6,661.26 L882.35,662.5 L883.11,663.75 L883.86,665.01 L884.63,666.27 L885.39,667.53 L886.16,668.81 L886.93,670.08 L887.71,671.36 L888.48,672.64 L889.27,673.93 L890.05,675.22 L890.84,676.51 L891.63,677.8 L892.43,679.1 L893.23,680.4 L894.03,681.7 L894.83,683 L895.64,684.31 L896.45,685.61 L897.27,686.92 L898.09,688.22 L898.91,689.53 L899.73,690.83 L900.56,692.14 L901.4,693.45 L902.23,694.76 L903.07,696.06 L903.91,697.37 L904.76,698.67 L905.61,699.98 L906.46,701.28 L907.31,702.59 L908.17,703.89 L909.03,705.19 L909.9,706.49 L910.77,707.79 L911.64,709.09 L912.52,710.38 L913.4,711.68 L914.28,712.97 L915.16,714.26 L916.05,715.55 L916.94,716.84 L917.84,718.12 L918.74,719.41 L919.64,720.69 L920.55,721.97 L921.46,723.25 L922.37,724.53 L923.28,725.8 L924.2,727.08 L925.13,728.35 L926.05,729.62 L926.98,730.89 L927.91,732.16 L928.85,733.42 L929.79,734.68 L930.73,735.95 L931.68,737.21 L932.63,738.47 L933.58,739.72 L934.53,740.98 L935.49,742.23 L936.46,743.49 L937.42,744.74 L938.39,745.99 L939.36,747.24 L940.34,748.48 L941.32,749.73 L942.3,750.98 L943.29,752.22 L944.28,753.47 L945.27,754.71 L946.27,755.95 L947.27,757.2 L948.27,758.44 L949.27,759.68 L950.28,760.92 L951.3,762.16 L952.31,763.4 L953.33,764.64 L954.36,765.88 L955.38,767.13 L956.41,768.37 L957.44,769.61 L958.48,770.85 L959.52,772.1 L960.56,773.34 L961.61,774.59 L962.66,775.84 L963.71,777.08 L964.77,778.33 L965.83,779.59 L966.89,780.84 L967.96,782.09 L969.03,783.35 L970.1,784.6 L971.18,785.86 L972.26,787.11 L973.34,788.37 L974.43,789.63 L975.52,790.88 L976.61,792.14 L977.71,793.39 L978.81,794.65 L979.91,795.9 L981.01,797.15 L982.12,798.4 L983.24,799.64 L984.35,800.89 L985.47,802.13 L986.6,803.37 L987.72,804.6 L988.85,805.83 L989.99,807.06 L991.12,808.28 L992.26,809.5 L993.41,810.72 L994.55,811.92 L995.71,813.13 L996.86,814.32 L998.02,815.51 L999.18,816.7 L1000.34,817.88 L1001.51,819.05 L1002.68,820.21 L1003.85,821.36 L1005.03,822.51 L1006.21,823.65 L1007.39,824.78 L1008.58,825.9 L1009.77,827.02 L1010.96,828.13 L1012.16,829.23 L1013.36,830.32 L1014.56,831.41 L1015.77,832.49 L1016.98,833.56 L1018.19,834.62 L1019.41,835.68 L1020.63,836.74 L1021.85,837.78 L1023.08,838.82 L1024.31,839.86 L1025.55,840.88 L1026.78,841.91 L1028.02,842.92 L1029.27,843.93 L1030.51,844.94 L1031.76,845.94 L1033.02,846.93 L1034.28,847.92 L1035.54,848.9 L1036.8,849.88 L1038.07,850.85 L1039.34,851.82 L1040.61,852.79 L1041.89,853.75 L1043.17,854.7 L1044.45,855.66 L1045.74,856.6 L1047.03,857.55 L1048.33,858.49 L1049.62,859.43 L1050.92,860.36 L1052.23,861.29 L1053.54,862.22 L1054.85,863.14 L1056.16,864.07 L1057.48,864.99 L1058.8,865.9 L1060.12,866.82 L1061.45,867.73 L1062.78,868.63 L1064.12,869.54 L1065.45,870.44 L1066.8,871.33 L1068.14,872.23 L1069.49,873.11 L1070.84,874 L1072.19,874.87 L1073.55,875.75 L1074.91,876.61 L1076.28,877.48 L1077.64,878.33 L1079.01,879.19 L1080.39,880.03 L1081.77,880.87 L1083.15,881.7 L1084.53,882.53 L1085.92,883.35 L1087.31,884.16 L1088.71,884.97 L1090.1,885.76 L1091.5,886.55 L1092.91,887.33 L1094.32,888.11 L1095.73,888.87 L1097.14,889.63 L1098.56,890.38 L1099.98,891.11 L1101.41,891.84 L1102.84,892.56 L1104.27,893.27 L1105.7,893.97 L1107.14,894.65 L1108.58,895.33 L1110.03,895.99 L1111.47,896.64 L1112.92,897.28 L1114.38,897.9 L1115.84,898.51 L1117.3,899.1 L1118.76,899.67 L1120.23,900.23 L1121.7,900.77 L1123.18,901.28 L1124.66,901.78 L1126.14,902.26 L1127.62,902.72 L1129.11,903.16 L1130.6,903.57 L1132.1,903.96 L1133.6,904.32 L1135.1,904.66 L1136.6,904.97 L1138.11,905.25 L1139.62,905.5 L1141.14,905.73 L1142.66,905.93 L1144.18,906.09 L1145.7,906.23 L1147.23,906.34 L1148.76,906.43 L1150.3,906.5 L1151.84,906.56 L1153.38,906.6 L1154.92,906.64 L1156.47,906.66 L1158.02,906.69 L1159.58,906.71 L1161.14,906.74 L1162.7,906.78 L1164.27,906.83 L1165.83,906.89 L1167.41,906.97 L1168.98,907.07 L1170.56,907.19 L1172.14,907.34 L1173.73,907.5 L1175.32,907.69 L1176.91,907.9 L1178.5,908.13 L1180.1,908.38 L1181.7,908.66 L1183.31,908.95 L1184.92,909.27 L1186.53,909.61 L1188.15,909.97 L1189.77,910.35 L1191.39,910.74 L1193.01,911.15 L1194.64,911.57 L1196.27,911.99 L1197.91,912.41 L1199.55,912.84 L1201.19,913.26 L1202.84,913.68 L1204.49,914.08 L1206.14,914.48 L1207.79,914.85 L1209.45,915.21 L1211.12,915.54 L1212.78,915.85 L1214.45,916.12" fill="none" stroke="#ff0000" stroke-width="4.3" stroke-linejoin="round"/>
<path d="M797.6,906.9 L797.6,906.89 L797.61,906.87 L797.62,906.83 L797.63,906.77 L797.64,906.7 L797.66,906.61 L797.68,906.51 L797.71,906.39 L797.74,906.25 L797.77,906.1 L797.8,905.93 L797.84,905.75 L797.88,905.55 L797.93,905.34 L797.98,905.1 L798.03,904.86 L798.08,904.59 L798.14,904.31 L798.2,904.02 L798.27,903.71 L798.34,903.38 L798.41,903.04 L798.49,902.68 L798.56,902.3 L798.65,901.91 L798.73,901.51 L798.82,901.09 L798.91,900.65 L799.01,900.19 L799.11,899.72 L799.21,899.24 L799.31,898.74 L799.42,898.22 L799.54,897.69 L799.65,897.14 L799.77,896.58 L799.89,896 L800.02,895.41 L800.15,894.8 L800.28,894.18 L800.41,893.54 L800.55,892.88 L800.7,892.21 L800.84,891.53 L800.99,890.83 L801.14,890.12 L801.3,889.39 L801.46,888.65 L801.62,887.89 L801.79,887.12 L801.95,886.34 L802.13,885.54 L802.3,884.73 L802.48,883.91 L802.66,883.07 L802.85,882.22 L803.04,881.36 L803.23,880.48 L803.43,879.6 L803.63,878.7 L803.83,877.79 L804.04,876.87 L804.24,875.93 L804.46,874.99 L804.67,874.04 L804.89,873.07 L805.11,872.1 L805.34,871.12 L805.57,870.12 L805.8,869.12 L806.04,868.11 L806.28,867.1 L806.52,866.07 L806.77,865.04 L807.02,864 L807.27,862.96 L807.53,861.91 L807.79,860.86 L808.05,859.8 L808.31,858.74 L808.58,857.67 L808.86,856.6 L809.13,855.53 L809.41,854.45 L809.7,853.38 L809.98,852.3 L810.27,851.22 L810.56,850.15 L810.86,849.07 L811.16,848 L811.46,846.92 L811.77,845.85 L812.08,844.79 L812.39,843.73 L812.71,842.67 L813.03,841.61 L813.35,840.57 L813.68,839.53 L814.01,838.49 L814.34,837.46 L814.68,836.45 L815.02,835.44 L815.36,834.44 L815.71,833.44 L816.06,832.46 L816.41,831.5 L816.77,830.54 L817.13,829.59 L817.49,828.66 L817.86,827.74 L818.23,826.84 L818.6,825.95 L818.98,825.07 L819.36,824.21 L819.74,823.37 L820.13,822.54 L820.52,821.73 L820.91,820.93 L821.31,820.16 L821.71,819.4 L822.11,818.66 L822.52,817.94 L822.93,817.24 L823.34,816.56 L823.76,815.89 L824.18,815.25 L824.6,814.63 L825.03,814.03 L825.46,813.45 L825.89,812.89 L826.33,812.36 L826.77,811.84 L827.21,811.35 L827.66,810.87 L828.11,810.42 L828.56,809.99 L829.02,809.59 L829.48,809.2 L829.95,808.84 L830.41,808.5 L830.88,808.18 L831.36,807.89 L831.83,807.61 L832.31,807.36 L832.8,807.13 L833.28,806.92 L833.78,806.73 L834.27,806.57 L834.77,806.42 L835.27,806.3 L835.77,806.2 L836.28,806.12 L836.79,806.06 L837.3,806.01 L837.82,805.99 L838.34,805.99 L838.86,806.01 L839.39,806.05 L839.92,806.11 L840.46,806.18 L840.99,806.28 L841.53,806.39 L842.08,806.52 L842.63,806.67 L843.18,806.84 L843.73,807.02 L844.29,807.22 L844.85,807.44 L845.41,807.67 L845.98,807.92 L846.55,808.18 L847.13,808.46 L847.7,808.75 L848.28,809.06 L848.87,809.38 L849.46,809.71 L850.05,810.06 L850.64,810.42 L851.24,810.79 L851.84,811.18 L852.44,811.57 L853.05,811.98 L853.66,812.4 L854.28,812.83 L854.9,813.27 L855.52,813.73 L856.14,814.19 L856.77,814.66 L857.4,815.14 L858.03,815.63 L858.67,816.13 L859.31,816.63 L859.96,817.15 L860.61,817.67 L861.26,818.2 L861.91,818.74 L862.57,819.28 L863.23,819.83 L863.9,820.39 L864.56,820.96 L865.23,821.53 L865.91,822.1 L866.59,822.68 L867.27,823.27 L867.95,823.86 L868.64,824.45 L869.33,825.06 L870.03,825.66 L870.73,826.27 L871.43,826.88 L872.13,827.5 L872.84,828.12 L873.55,828.74 L874.27,829.37 L874.98,830 L875.71,830.63 L876.43,831.27 L877.16,831.9 L877.89,832.54 L878.63,833.18 L879.36,833.83 L880.11,834.47 L880.85,835.12 L881.6,835.77 L882.35,836.42 L883.11,837.07 L883.86,837.73 L884.63,838.38 L885.39,839.04 L886.16,839.69 L886.93,840.35 L887.71,841.01 L888.48,841.66 L889.27,842.32 L890.05,842.98 L890.84,843.64 L891.63,844.3 L892.43,844.96 L893.23,845.62 L894.03,846.28 L894.83,846.94 L895.64,847.6 L896.45,848.26 L897.27,848.92 L898.09,849.58 L898.91,850.24 L899.73,850.9 L900.56,851.55 L901.4,852.21 L902.23,852.87 L903.07,853.53 L903.91,854.18 L904.76,854.84 L905.61,855.49 L906.46,856.14 L907.31,856.8 L908.17,857.45 L909.03,858.1 L909.9,858.75 L910.77,859.4 L911.64,860.05 L912.52,860.7 L913.4,861.35 L914.28,861.99 L915.16,862.64 L916.05,863.28 L916.94,863.93 L917.84,864.57 L918.74,865.21 L919.64,865.86 L920.55,866.5 L921.46,867.14 L922.37,867.77 L923.28,868.41 L924.2,869.05 L925.13,869.69 L926.05,870.32 L926.98,870.96 L927.91,871.59 L928.85,872.22 L929.79,872.85 L930.73,873.48 L931.68,874.11 L932.63,874.74 L933.58,875.37 L934.53,876 L935.49,876.63 L936.46,877.26 L937.42,877.88 L938.39,878.51 L939.36,879.13 L940.34,879.76 L941.32,880.38 L942.3,881 L943.29,881.63 L944.28,882.25 L945.27,882.87 L946.27,883.49 L947.27,884.11 L948.27,884.73 L949.27,885.35 L950.28,885.97 L951.3,886.59 L952.31,887.21 L953.33,887.83 L954.36,888.45 L955.38,889.07 L956.41,889.68 L957.44,890.3 L958.48,890.92 L959.52,891.54 L960.56,892.16 L961.61,892.78 L962.66,893.39 L963.71,894.01 L964.77,894.63 L965.83,895.25 L966.89,895.87 L967.96,896.49 L969.03,897.11 L970.1,897.73 L971.18,898.35 L972.26,898.97 L973.34,899.59 L974.43,900.22 L975.52,900.84 L976.61,901.46 L977.71,902.09 L978.81,902.71 L979.91,903.34 L981.01,903.97 L982.12,904.59 L983.24,905.22 L984.35,905.85 L985.47,906.48 L986.6,907.11 L987.72,907.75 L988.85,908.38 L989.99,909.01 L991.12,909.65 L992.26,910.29 L993.41,910.93 L994.55,911.57 L995.71,912.21 L996.86,912.85 L998.02,913.5 L999.18,914.15 L1000.34,914.79 L1001.51,915.44 L1002.68,916.1 L1003.85,916.75 L1005.03,917.41 L1006.21,918.06 L1007.39,918.72 L1008.58,919.38 L1009.77,920.05 L1010.96,920.71 L1012.16,921.38 L1013.36,922.05 L1014.56,922.72 L1015.77,923.39 L1016.98,924.06 L1018.19,924.73 L1019.41,925.41 L1020.63,926.09 L1021.85,926.76 L1023.08,927.44 L1024.31,928.12 L1025.55,928.8 L1026.78,929.48 L1028.02,930.17 L1029.27,930.85 L1030.51,931.53 L1031.76,932.21 L1033.02,932.9 L1034.28,933.58 L1035.54,934.27 L1036.8,934.95 L1038.07,935.63 L1039.34,936.32 L1040.61,937 L1041.89,937.68 L1043.17,938.37 L1044.45,939.05 L1045.74,939.73 L1047.03,940.41 L1048.33,941.09 L1049.62,941.77 L1050.92,942.45 L1052.23,943.13 L1053.54,943.8 L1054.85,944.48 L1056.16,945.15 L1057.48,945.82 L1058.8,946.49 L1060.12,947.15 L1061.45,947.82 L1062.78,948.48 L1064.12,949.14 L1065.45,949.8 L1066.8,950.45 L1068.14,951.1 L1069.49,951.75 L1070.84,952.4 L1072.19,953.04 L1073.55,953.68 L1074.91,954.31 L1076.28,954.94 L1077.64,955.57 L1079.01,956.2 L1080.39,956.81 L1081.77,957.43 L1083.15,958.04 L1084.53,958.65 L1085.92,959.25 L1087.31,959.84 L1088.71,960.43 L1090.1,961.02 L1091.5,961.6 L1092.91,962.17 L1094.32,962.74 L1095.73,963.3 L1097.14,963.86 L1098.56,964.4 L1099.98,964.95 L1101.41,965.48 L1102.84,966.01 L1104.27,966.53 L1105.7,967.04 L1107.14,967.54 L1108.58,968.03 L1110.03,968.5 L1111.47,968.95 L1112.92,969.37 L1114.38,969.76 L1115.84,970.11 L1117.3,970.43 L1118.76,970.69 L1120.23,970.91 L1121.7,971.07 L1123.18,971.17 L1124.66,971.2 L1126.14,971.16 L1127.62,971.05 L1129.11,970.86 L1130.6,970.58 L1132.1,970.21 L1133.6,969.75 L1135.1,969.18 L1136.6,968.52 L1138.11,967.77 L1139.62,966.93 L1141.14,966.01 L1142.66,965.02 L1144.18,963.96 L1145.7,962.84 L1147.23,961.67 L1148.76,960.45 L1150.3,959.19 L1151.84,957.9 L1153.38,956.57 L1154.92,955.23 L1156.47,953.87 L1158.02,952.5 L1159.58,951.13 L1161.14,949.77 L1162.7,948.41 L1164.27,947.06 L1165.83,945.72 L1167.41,944.42 L1168.98,943.14 L1170.56,941.89 L1172.14,940.68 L1173.73,939.52 L1175.32,938.41 L1176.91,937.36 L1178.5,936.37 L1180.1,935.45 L1181.7,934.6 L1183.31,933.82 L1184.92,933.12 L1186.53,932.48 L1188.15,931.91 L1189.77,931.4 L1191.39,930.95 L1193.01,930.57 L1194.64,930.24 L1196.27,929.96 L1197.91,929.72 L1199.55,929.53 L1201.19,929.37 L1202.84,929.25 L1204.49,929.15 L1206.14,929.07 L1207.79,929 L1209.45,928.94 L1211.12,928.89 L1212.78,928.83 L1214.45,928.77" fill="none" stroke="#0000ff" stroke-width="4.3" stroke-linejoin="round"/>
</g>
<rect x="797.6" y="572.45" width="416.85" height="427.55" fill="none" stroke="#262626" stroke-width="4.9"/>
<path d="M916.3,572.45 v11.5 M916.3,1000 v-11.5 M1035.2,572.45 v11.5 M1035.2,1000 v-11.5 M1154.3,572.45 v11.5 M1154.3,1000 v-11.5 M797.6,609.5 h11.5 M1214.45,609.5 h-11.5 M797.6,683.75 h11.5 M1214.45,683.75 h-11.5 M797.6,758 h11.5 M1214.45,758 h-11.5 M797.6,832.3 h11.5 M1214.45,832.3 h-11.5 M797.6,906.8 h11.5 M1214.45,906.8 h-11.5 M797.6,981.1 h11.5 M1214.45,981.1 h-11.5" fill="none" stroke="#262626" stroke-width="4.9"/>
<text x="783" y="620.5" font-size="29.3" text-anchor="end" fill="#474443">16</text>
<text x="783" y="694.75" font-size="29.3" text-anchor="end" fill="#474443">12</text>
<text x="783" y="769" font-size="29.3" text-anchor="end" fill="#474443">8</text>
<text x="783" y="843.3" font-size="29.3" text-anchor="end" fill="#474443">4</text>
<text x="783" y="917.8" font-size="29.3" text-anchor="end" fill="#474443">0</text>
<text x="783" y="992.1" font-size="29.3" text-anchor="end" fill="#474443">−4</text>
<text x="708.8" y="576.4" font-size="41.67" font-weight="bold" fill="#231815">e</text>
<text transform="translate(730,786) rotate(-90)" font-size="29.17" text-anchor="middle" fill="#231815">Im. <tspan class="sy">σ</tspan> (mS)</text>
</g>
<g id="panel-f">
<clipPath id="cf"><rect x="797.6" y="1057.5" width="416.85" height="427.9"/></clipPath>
<rect x="943.4" y="1057.5" width="200.4" height="427.9" fill="#c6c6c6"/>
<path d="M797.6,1393.7 H1214.45" stroke="#000" stroke-width="4.3" stroke-dasharray="16.3 16.76" fill="none"/>
<g clip-path="url(#cf)">
<path d="M797.6,1393.6 L797.6,1393.58 L797.61,1393.53 L797.62,1393.43 L797.63,1393.3 L797.64,1393.14 L797.66,1392.94 L797.68,1392.69 L797.71,1392.42 L797.74,1392.1 L797.77,1391.75 L797.8,1391.37 L797.84,1390.94 L797.88,1390.48 L797.93,1389.98 L797.98,1389.45 L798.03,1388.87 L798.08,1388.27 L798.14,1387.62 L798.2,1386.94 L798.27,1386.22 L798.34,1385.46 L798.41,1384.67 L798.49,1383.84 L798.56,1382.98 L798.65,1382.08 L798.73,1381.14 L798.82,1380.17 L798.91,1379.16 L799.01,1378.11 L799.11,1377.03 L799.21,1375.91 L799.31,1374.75 L799.42,1373.56 L799.54,1372.34 L799.65,1371.08 L799.77,1369.78 L799.89,1368.45 L800.02,1367.08 L800.15,1365.68 L800.28,1364.24 L800.41,1362.77 L800.55,1361.26 L800.7,1359.72 L800.84,1358.14 L800.99,1356.53 L801.14,1354.89 L801.3,1353.22 L801.46,1351.51 L801.62,1349.76 L801.79,1347.99 L801.95,1346.18 L802.13,1344.34 L802.3,1342.47 L802.48,1340.57 L802.66,1338.63 L802.85,1336.67 L803.04,1334.67 L803.23,1332.64 L803.43,1330.59 L803.63,1328.51 L803.83,1326.39 L804.04,1324.25 L804.24,1322.08 L804.46,1319.89 L804.67,1317.67 L804.89,1315.42 L805.11,1313.14 L805.34,1310.84 L805.57,1308.52 L805.8,1306.17 L806.04,1303.8 L806.28,1301.41 L806.52,1299 L806.77,1296.56 L807.02,1294.11 L807.27,1291.63 L807.53,1289.14 L807.79,1286.63 L808.05,1284.1 L808.31,1281.55 L808.58,1278.99 L808.86,1276.42 L809.13,1273.83 L809.41,1271.23 L809.7,1268.62 L809.98,1266 L810.27,1263.36 L810.56,1260.72 L810.86,1258.07 L811.16,1255.42 L811.46,1252.76 L811.77,1250.09 L812.08,1247.42 L812.39,1244.75 L812.71,1242.08 L813.03,1239.41 L813.35,1236.74 L813.68,1234.07 L814.01,1231.4 L814.34,1228.74 L814.68,1226.08 L815.02,1223.44 L815.36,1220.8 L815.71,1218.17 L816.06,1215.55 L816.41,1212.94 L816.77,1210.34 L817.13,1207.76 L817.49,1205.19 L817.86,1202.64 L818.23,1200.11 L818.6,1197.6 L818.98,1195.11 L819.36,1192.64 L819.74,1190.19 L820.13,1187.76 L820.52,1185.36 L820.91,1182.99 L821.31,1180.64 L821.71,1178.32 L822.11,1176.03 L822.52,1173.77 L822.93,1171.54 L823.34,1169.35 L823.76,1167.18 L824.18,1165.06 L824.6,1162.96 L825.03,1160.9 L825.46,1158.88 L825.89,1156.9 L826.33,1154.96 L826.77,1153.05 L827.21,1151.19 L827.66,1149.37 L828.11,1147.58 L828.56,1145.85 L829.02,1144.15 L829.48,1142.5 L829.95,1140.89 L830.41,1139.33 L830.88,1137.81 L831.36,1136.33 L831.83,1134.91 L832.31,1133.53 L832.8,1132.2 L833.28,1130.91 L833.78,1129.67 L834.27,1128.48 L834.77,1127.34 L835.27,1126.25 L835.77,1125.2 L836.28,1124.2 L836.79,1123.26 L837.3,1122.36 L837.82,1121.5 L838.34,1120.7 L838.86,1119.95 L839.39,1119.24 L839.92,1118.58 L840.46,1117.98 L840.99,1117.41 L841.53,1116.9 L842.08,1116.44 L842.63,1116.02 L843.18,1115.65 L843.73,1115.33 L844.29,1115.05 L844.85,1114.82 L845.41,1114.63 L845.98,1114.49 L846.55,1114.4 L847.13,1114.35 L847.7,1114.34 L848.28,1114.38 L848.87,1114.46 L849.46,1114.59 L850.05,1114.75 L850.64,1114.96 L851.24,1115.21 L851.84,1115.5 L852.44,1115.83 L853.05,1116.2 L853.66,1116.61 L854.28,1117.06 L854.9,1117.54 L855.52,1118.06 L856.14,1118.62 L856.77,1119.21 L857.4,1119.84 L858.03,1120.51 L858.67,1121.21 L859.31,1121.94 L859.96,1122.7 L860.61,1123.5 L861.26,1124.33 L861.91,1125.19 L862.57,1126.08 L863.23,1126.99 L863.9,1127.94 L864.56,1128.92 L865.23,1129.92 L865.91,1130.95 L866.59,1132.01 L867.27,1133.09 L867.95,1134.2 L868.64,1135.33 L869.33,1136.49 L870.03,1137.67 L870.73,1138.87 L871.43,1140.1 L872.13,1141.34 L872.84,1142.61 L873.55,1143.9 L874.27,1145.2 L874.98,1146.53 L875.71,1147.87 L876.43,1149.23 L877.16,1150.61 L877.89,1152.01 L878.63,1153.42 L879.36,1154.85 L880.11,1156.29 L880.85,1157.75 L881.6,1159.22 L882.35,1160.7 L883.11,1162.2 L883.86,1163.71 L884.63,1165.23 L885.39,1166.76 L886.16,1168.3 L886.93,1169.86 L887.71,1171.42 L888.48,1172.99 L889.27,1174.57 L890.05,1176.16 L890.84,1177.76 L891.63,1179.36 L892.43,1180.97 L893.23,1182.59 L894.03,1184.21 L894.83,1185.84 L895.64,1187.47 L896.45,1189.1 L897.27,1190.74 L898.09,1192.39 L898.91,1194.03 L899.73,1195.68 L900.56,1197.33 L901.4,1198.99 L902.23,1200.64 L903.07,1202.29 L903.91,1203.95 L904.76,1205.6 L905.61,1207.25 L906.46,1208.9 L907.31,1210.55 L908.17,1212.2 L909.03,1213.84 L909.9,1215.49 L910.77,1217.12 L911.64,1218.76 L912.52,1220.39 L913.4,1222.01 L914.28,1223.63 L915.16,1225.24 L916.05,1226.85 L916.94,1228.45 L917.84,1230.04 L918.74,1231.63 L919.64,1233.2 L920.55,1234.77 L921.46,1236.33 L922.37,1237.88 L923.28,1239.42 L924.2,1240.95 L925.13,1242.46 L926.05,1243.97 L926.98,1245.46 L927.91,1246.94 L928.85,1248.41 L929.79,1249.87 L930.73,1251.31 L931.68,1252.74 L932.63,1254.16 L933.58,1255.57 L934.53,1256.96 L935.49,1258.35 L936.46,1259.72 L937.42,1261.09 L938.39,1262.44 L939.36,1263.78 L940.34,1265.11 L941.32,1266.44 L942.3,1267.75 L943.29,1269.06 L944.28,1270.35 L945.27,1271.64 L946.27,1272.92 L947.27,1274.2 L948.27,1275.47 L949.27,1276.73 L950.28,1277.98 L951.3,1279.23 L952.31,1280.47 L953.33,1281.71 L954.36,1282.95 L955.38,1284.18 L956.41,1285.41 L957.44,1286.63 L958.48,1287.85 L959.52,1289.07 L960.56,1290.29 L961.61,1291.51 L962.66,1292.73 L963.71,1293.95 L964.77,1295.17 L965.83,1296.39 L966.89,1297.61 L967.96,1298.83 L969.03,1300.05 L970.1,1301.26 L971.18,1302.48 L972.26,1303.68 L973.34,1304.88 L974.43,1306.07 L975.52,1307.25 L976.61,1308.42 L977.71,1309.58 L978.81,1310.72 L979.91,1311.85 L981.01,1312.95 L982.12,1314.05 L983.24,1315.12 L984.35,1316.18 L985.47,1317.23 L986.6,1318.25 L987.72,1319.27 L988.85,1320.27 L989.99,1321.25 L991.12,1322.22 L992.26,1323.18 L993.41,1324.13 L994.55,1325.06 L995.71,1325.98 L996.86,1326.9 L998.02,1327.8 L999.18,1328.69 L1000.34,1329.57 L1001.51,1330.45 L1002.68,1331.31 L1003.85,1332.17 L1005.03,1333.02 L1006.21,1333.87 L1007.39,1334.71 L1008.58,1335.54 L1009.77,1336.37 L1010.96,1337.19 L1012.16,1338 L1013.36,1338.81 L1014.56,1339.62 L1015.77,1340.41 L1016.98,1341.2 L1018.19,1341.99 L1019.41,1342.77 L1020.63,1343.54 L1021.85,1344.31 L1023.08,1345.07 L1024.31,1345.83 L1025.55,1346.58 L1026.78,1347.33 L1028.02,1348.07 L1029.27,1348.8 L1030.51,1349.53 L1031.76,1350.25 L1033.02,1350.97 L1034.28,1351.69 L1035.54,1352.39 L1036.8,1353.1 L1038.07,1353.79 L1039.34,1354.48 L1040.61,1355.17 L1041.89,1355.85 L1043.17,1356.53 L1044.45,1357.2 L1045.74,1357.87 L1047.03,1358.53 L1048.33,1359.19 L1049.62,1359.84 L1050.92,1360.49 L1052.23,1361.14 L1053.54,1361.78 L1054.85,1362.41 L1056.16,1363.04 L1057.48,1363.67 L1058.8,1364.29 L1060.12,1364.91 L1061.45,1365.52 L1062.78,1366.13 L1064.12,1366.73 L1065.45,1367.34 L1066.8,1367.93 L1068.14,1368.53 L1069.49,1369.11 L1070.84,1369.7 L1072.19,1370.28 L1073.55,1370.86 L1074.91,1371.43 L1076.28,1372.01 L1077.64,1372.57 L1079.01,1373.14 L1080.39,1373.7 L1081.77,1374.26 L1083.15,1374.81 L1084.53,1375.36 L1085.92,1375.91 L1087.31,1376.45 L1088.71,1376.99 L1090.1,1377.53 L1091.5,1378.06 L1092.91,1378.59 L1094.32,1379.12 L1095.73,1379.64 L1097.14,1380.16 L1098.56,1380.68 L1099.98,1381.19 L1101.41,1381.69 L1102.84,1382.19 L1104.27,1382.69 L1105.7,1383.19 L1107.14,1383.68 L1108.58,1384.16 L1110.03,1384.64 L1111.47,1385.12 L1112.92,1385.59 L1114.38,1386.06 L1115.84,1386.52 L1117.3,1386.98 L1118.76,1387.44 L1120.23,1387.88 L1121.7,1388.33 L1123.18,1388.77 L1124.66,1389.2 L1126.14,1389.63 L1127.62,1390.05 L1129.11,1390.47 L1130.6,1390.88 L1132.1,1391.29 L1133.6,1391.69 L1135.1,1392.09 L1136.6,1392.49 L1138.11,1392.89 L1139.62,1393.29 L1141.14,1393.68 L1142.66,1394.08 L1144.18,1394.49 L1145.7,1394.89 L1147.23,1395.31 L1148.76,1395.73 L1150.3,1396.15 L1151.84,1396.59 L1153.38,1397.03 L1154.92,1397.49 L1156.47,1397.95 L1158.02,1398.43 L1159.58,1398.92 L1161.14,1399.41 L1162.7,1399.91 L1164.27,1400.42 L1165.83,1400.93 L1167.41,1401.44 L1168.98,1401.95 L1170.56,1402.46 L1172.14,1402.97 L1173.73,1403.47 L1175.32,1403.97 L1176.91,1404.46 L1178.5,1404.94 L1180.1,1405.41 L1181.7,1405.86 L1183.31,1406.31 L1184.92,1406.74 L1186.53,1407.16 L1188.15,1407.57 L1189.77,1407.96 L1191.39,1408.35 L1193.01,1408.72 L1194.64,1409.08 L1196.27,1409.43 L1197.91,1409.77 L1199.55,1410.09 L1201.19,1410.41 L1202.84,1410.71 L1204.49,1411.01 L1206.14,1411.29 L1207.79,1411.56 L1209.45,1411.83 L1211.12,1412.08 L1212.78,1412.32 L1214.45,1412.56" fill="none" stroke="#ff0000" stroke-width="4.3" stroke-linejoin="round"/>
<path d="M797.6,1393.6 L797.6,1393.59 L797.61,1393.57 L797.62,1393.53 L797.63,1393.48 L797.64,1393.41 L797.66,1393.32 L797.68,1393.22 L797.71,1393.1 L797.74,1392.97 L797.77,1392.82 L797.8,1392.66 L797.84,1392.48 L797.88,1392.28 L797.93,1392.07 L797.98,1391.84 L798.03,1391.6 L798.08,1391.34 L798.14,1391.07 L798.2,1390.78 L798.27,1390.47 L798.34,1390.15 L798.41,1389.81 L798.49,1389.46 L798.56,1389.09 L798.65,1388.71 L798.73,1388.3 L798.82,1387.89 L798.91,1387.45 L799.01,1387 L799.11,1386.54 L799.21,1386.06 L799.31,1385.56 L799.42,1385.05 L799.54,1384.52 L799.65,1383.97 L799.77,1383.41 L799.89,1382.83 L800.02,1382.24 L800.15,1381.63 L800.28,1381 L800.41,1380.36 L800.55,1379.7 L800.7,1379.03 L800.84,1378.34 L800.99,1377.63 L801.14,1376.91 L801.3,1376.18 L801.46,1375.42 L801.62,1374.66 L801.79,1373.87 L801.95,1373.07 L802.13,1372.26 L802.3,1371.43 L802.48,1370.59 L802.66,1369.73 L802.85,1368.85 L803.04,1367.96 L803.23,1367.06 L803.43,1366.14 L803.63,1365.21 L803.83,1364.27 L804.04,1363.31 L804.24,1362.33 L804.46,1361.35 L804.67,1360.35 L804.89,1359.34 L805.11,1358.31 L805.34,1357.28 L805.57,1356.23 L805.8,1355.17 L806.04,1354.1 L806.28,1353.02 L806.52,1351.92 L806.77,1350.82 L807.02,1349.71 L807.27,1348.59 L807.53,1347.46 L807.79,1346.32 L808.05,1345.17 L808.31,1344.01 L808.58,1342.85 L808.86,1341.68 L809.13,1340.51 L809.41,1339.33 L809.7,1338.14 L809.98,1336.95 L810.27,1335.76 L810.56,1334.56 L810.86,1333.36 L811.16,1332.15 L811.46,1330.95 L811.77,1329.74 L812.08,1328.54 L812.39,1327.33 L812.71,1326.13 L813.03,1324.92 L813.35,1323.72 L813.68,1322.52 L814.01,1321.33 L814.34,1320.14 L814.68,1318.95 L815.02,1317.77 L815.36,1316.59 L815.71,1315.43 L816.06,1314.27 L816.41,1313.12 L816.77,1311.98 L817.13,1310.84 L817.49,1309.72 L817.86,1308.61 L818.23,1307.52 L818.6,1306.43 L818.98,1305.36 L819.36,1304.3 L819.74,1303.26 L820.13,1302.23 L820.52,1301.22 L820.91,1300.23 L821.31,1299.25 L821.71,1298.29 L822.11,1297.35 L822.52,1296.43 L822.93,1295.53 L823.34,1294.66 L823.76,1293.8 L824.18,1292.96 L824.6,1292.15 L825.03,1291.35 L825.46,1290.59 L825.89,1289.84 L826.33,1289.12 L826.77,1288.43 L827.21,1287.75 L827.66,1287.11 L828.11,1286.49 L828.56,1285.9 L829.02,1285.33 L829.48,1284.79 L829.95,1284.28 L830.41,1283.79 L830.88,1283.34 L831.36,1282.91 L831.83,1282.5 L832.31,1282.13 L832.8,1281.79 L833.28,1281.47 L833.78,1281.18 L834.27,1280.92 L834.77,1280.69 L835.27,1280.49 L835.77,1280.31 L836.28,1280.17 L836.79,1280.05 L837.3,1279.96 L837.82,1279.9 L838.34,1279.87 L838.86,1279.86 L839.39,1279.88 L839.92,1279.94 L840.46,1280.01 L840.99,1280.12 L841.53,1280.25 L842.08,1280.41 L842.63,1280.6 L843.18,1280.81 L843.73,1281.05 L844.29,1281.31 L844.85,1281.6 L845.41,1281.91 L845.98,1282.25 L846.55,1282.61 L847.13,1282.99 L847.7,1283.4 L848.28,1283.83 L848.87,1284.29 L849.46,1284.76 L850.05,1285.26 L850.64,1285.78 L851.24,1286.31 L851.84,1286.87 L852.44,1287.45 L853.05,1288.05 L853.66,1288.66 L854.28,1289.3 L854.9,1289.95 L855.52,1290.62 L856.14,1291.3 L856.77,1292 L857.4,1292.72 L858.03,1293.45 L858.67,1294.2 L859.31,1294.96 L859.96,1295.74 L860.61,1296.53 L861.26,1297.33 L861.91,1298.14 L862.57,1298.97 L863.23,1299.81 L863.9,1300.66 L864.56,1301.52 L865.23,1302.39 L865.91,1303.27 L866.59,1304.16 L867.27,1305.05 L867.95,1305.96 L868.64,1306.87 L869.33,1307.8 L870.03,1308.73 L870.73,1309.66 L871.43,1310.6 L872.13,1311.55 L872.84,1312.51 L873.55,1313.47 L874.27,1314.44 L874.98,1315.41 L875.71,1316.38 L876.43,1317.36 L877.16,1318.34 L877.89,1319.33 L878.63,1320.32 L879.36,1321.32 L880.11,1322.31 L880.85,1323.31 L881.6,1324.32 L882.35,1325.32 L883.11,1326.33 L883.86,1327.34 L884.63,1328.35 L885.39,1329.36 L886.16,1330.37 L886.93,1331.39 L887.71,1332.41 L888.48,1333.42 L889.27,1334.44 L890.05,1335.46 L890.84,1336.48 L891.63,1337.5 L892.43,1338.52 L893.23,1339.55 L894.03,1340.57 L894.83,1341.59 L895.64,1342.62 L896.45,1343.64 L897.27,1344.66 L898.09,1345.69 L898.91,1346.71 L899.73,1347.73 L900.56,1348.75 L901.4,1349.77 L902.23,1350.79 L903.07,1351.8 L903.91,1352.82 L904.76,1353.83 L905.61,1354.84 L906.46,1355.85 L907.31,1356.86 L908.17,1357.86 L909.03,1358.87 L909.9,1359.87 L910.77,1360.87 L911.64,1361.86 L912.52,1362.85 L913.4,1363.84 L914.28,1364.83 L915.16,1365.82 L916.05,1366.8 L916.94,1367.78 L917.84,1368.75 L918.74,1369.72 L919.64,1370.69 L920.55,1371.66 L921.46,1372.62 L922.37,1373.59 L923.28,1374.54 L924.2,1375.5 L925.13,1376.45 L926.05,1377.4 L926.98,1378.34 L927.91,1379.28 L928.85,1380.22 L929.79,1381.16 L930.73,1382.09 L931.68,1383.02 L932.63,1383.94 L933.58,1384.87 L934.53,1385.79 L935.49,1386.7 L936.46,1387.62 L937.42,1388.53 L938.39,1389.44 L939.36,1390.34 L940.34,1391.25 L941.32,1392.15 L942.3,1393.04 L943.29,1393.94 L944.28,1394.83 L945.27,1395.72 L946.27,1396.61 L947.27,1397.5 L948.27,1398.38 L949.27,1399.26 L950.28,1400.13 L951.3,1401 L952.31,1401.87 L953.33,1402.74 L954.36,1403.6 L955.38,1404.45 L956.41,1405.3 L957.44,1406.15 L958.48,1406.99 L959.52,1407.83 L960.56,1408.66 L961.61,1409.49 L962.66,1410.31 L963.71,1411.13 L964.77,1411.94 L965.83,1412.74 L966.89,1413.54 L967.96,1414.33 L969.03,1415.12 L970.1,1415.89 L971.18,1416.67 L972.26,1417.43 L973.34,1418.19 L974.43,1418.93 L975.52,1419.68 L976.61,1420.41 L977.71,1421.13 L978.81,1421.85 L979.91,1422.56 L981.01,1423.25 L982.12,1423.94 L983.24,1424.62 L984.35,1425.29 L985.47,1425.96 L986.6,1426.61 L987.72,1427.25 L988.85,1427.89 L989.99,1428.51 L991.12,1429.13 L992.26,1429.73 L993.41,1430.33 L994.55,1430.92 L995.71,1431.5 L996.86,1432.07 L998.02,1432.63 L999.18,1433.18 L1000.34,1433.72 L1001.51,1434.26 L1002.68,1434.78 L1003.85,1435.29 L1005.03,1435.8 L1006.21,1436.29 L1007.39,1436.78 L1008.58,1437.26 L1009.77,1437.72 L1010.96,1438.18 L1012.16,1438.63 L1013.36,1439.07 L1014.56,1439.5 L1015.77,1439.92 L1016.98,1440.33 L1018.19,1440.73 L1019.41,1441.13 L1020.63,1441.51 L1021.85,1441.88 L1023.08,1442.25 L1024.31,1442.6 L1025.55,1442.95 L1026.78,1443.28 L1028.02,1443.61 L1029.27,1443.93 L1030.51,1444.24 L1031.76,1444.54 L1033.02,1444.83 L1034.28,1445.11 L1035.54,1445.38 L1036.8,1445.64 L1038.07,1445.89 L1039.34,1446.13 L1040.61,1446.37 L1041.89,1446.59 L1043.17,1446.81 L1044.45,1447.02 L1045.74,1447.22 L1047.03,1447.41 L1048.33,1447.59 L1049.62,1447.76 L1050.92,1447.92 L1052.23,1448.08 L1053.54,1448.22 L1054.85,1448.36 L1056.16,1448.49 L1057.48,1448.61 L1058.8,1448.72 L1060.12,1448.82 L1061.45,1448.92 L1062.78,1449.01 L1064.12,1449.08 L1065.45,1449.16 L1066.8,1449.22 L1068.14,1449.27 L1069.49,1449.32 L1070.84,1449.36 L1072.19,1449.39 L1073.55,1449.41 L1074.91,1449.43 L1076.28,1449.43 L1077.64,1449.43 L1079.01,1449.43 L1080.39,1449.41 L1081.77,1449.39 L1083.15,1449.36 L1084.53,1449.32 L1085.92,1449.28 L1087.31,1449.23 L1088.71,1449.17 L1090.1,1449.1 L1091.5,1449.03 L1092.91,1448.95 L1094.32,1448.87 L1095.73,1448.78 L1097.14,1448.68 L1098.56,1448.57 L1099.98,1448.46 L1101.41,1448.35 L1102.84,1448.22 L1104.27,1448.09 L1105.7,1447.96 L1107.14,1447.82 L1108.58,1447.67 L1110.03,1447.52 L1111.47,1447.36 L1112.92,1447.2 L1114.38,1447.03 L1115.84,1446.85 L1117.3,1446.67 L1118.76,1446.49 L1120.23,1446.3 L1121.7,1446.11 L1123.18,1445.91 L1124.66,1445.7 L1126.14,1445.5 L1127.62,1445.28 L1129.11,1445.07 L1130.6,1444.84 L1132.1,1444.62 L1133.6,1444.39 L1135.1,1444.16 L1136.6,1443.92 L1138.11,1443.68 L1139.62,1443.44 L1141.14,1443.19 L1142.66,1442.94 L1144.18,1442.69 L1145.7,1442.43 L1147.23,1442.17 L1148.76,1441.91 L1150.3,1441.65 L1151.84,1441.38 L1153.38,1441.11 L1154.92,1440.84 L1156.47,1440.57 L1158.02,1440.29 L1159.58,1440.01 L1161.14,1439.74 L1162.7,1439.46 L1164.27,1439.18 L1165.83,1438.89 L1167.41,1438.61 L1168.98,1438.33 L1170.56,1438.04 L1172.14,1437.76 L1173.73,1437.47 L1175.32,1437.19 L1176.91,1436.9 L1178.5,1436.62 L1180.1,1436.33 L1181.7,1436.05 L1183.31,1435.76 L1184.92,1435.48 L1186.53,1435.2 L1188.15,1434.92 L1189.77,1434.64 L1191.39,1434.36 L1193.01,1434.08 L1194.64,1433.81 L1196.27,1433.53 L1197.91,1433.26 L1199.55,1433 L1201.19,1432.73 L1202.84,1432.47 L1204.49,1432.21 L1206.14,1431.95 L1207.79,1431.7 L1209.45,1431.45 L1211.12,1431.2 L1212.78,1430.96 L1214.45,1430.73" fill="none" stroke="#0000ff" stroke-width="4.3" stroke-linejoin="round"/>
</g>
<rect x="797.6" y="1057.5" width="416.85" height="427.9" fill="none" stroke="#262626" stroke-width="4.9"/>
<path d="M916.3,1057.5 v11.5 M916.3,1485.4 v-11.5 M1035.2,1057.5 v11.5 M1035.2,1485.4 v-11.5 M1154.3,1057.5 v11.5 M1154.3,1485.4 v-11.5 M797.6,1088.25 h11.5 M1214.45,1088.25 h-11.5 M797.6,1149.4 h11.5 M1214.45,1149.4 h-11.5 M797.6,1210.4 h11.5 M1214.45,1210.4 h-11.5 M797.6,1271.5 h11.5 M1214.45,1271.5 h-11.5 M797.6,1332.5 h11.5 M1214.45,1332.5 h-11.5 M797.6,1393.5 h11.5 M1214.45,1393.5 h-11.5 M797.6,1454.6 h11.5 M1214.45,1454.6 h-11.5" fill="none" stroke="#262626" stroke-width="4.9"/>
<text x="783" y="1099.25" font-size="29.3" text-anchor="end" fill="#474443">5</text>
<text x="783" y="1160.4" font-size="29.3" text-anchor="end" fill="#474443">4</text>
<text x="783" y="1221.4" font-size="29.3" text-anchor="end" fill="#474443">3</text>
<text x="783" y="1282.5" font-size="29.3" text-anchor="end" fill="#474443">2</text>
<text x="783" y="1343.5" font-size="29.3" text-anchor="end" fill="#474443">1</text>
<text x="783" y="1404.5" font-size="29.3" text-anchor="end" fill="#474443">0</text>
<text x="783" y="1465.6" font-size="29.3" text-anchor="end" fill="#474443">−1</text>
<text x="916.3" y="1521.3" font-size="29.3" text-anchor="middle" fill="#474443">200</text>
<text x="1035.2" y="1521.3" font-size="29.3" text-anchor="middle" fill="#474443">400</text>
<text x="1154.3" y="1521.3" font-size="29.3" text-anchor="middle" fill="#474443">600</text>
<text x="710" y="1051" font-size="41.67" font-weight="bold" fill="#231815">f</text>
<text transform="translate(730,1272.5) rotate(-90)" font-size="29.17" text-anchor="middle" fill="#231815">Im. <tspan class="sy">σ</tspan> (mS)</text>
<text x="1005.5" y="1569.3" font-size="29.17" text-anchor="middle" fill="#231815">Frequency (cm<tspan font-size="20.5" dy="-12.6">−1</tspan><tspan dy="12.6">)</tspan></text>
</g>
<g id="panel-g">
<circle cx="1443.75" cy="159.25" r="13" fill="#ff0000"/>
<rect x="1433.25" y="135.25" width="21" height="21" fill="#0000ff"/>
<circle cx="1639.5" cy="250.2" r="13" fill="#ff0000"/>
<rect x="1629" y="235.25" width="21" height="21" fill="#0000ff"/>
<circle cx="1796.25" cy="419.25" r="13" fill="#ff0000"/>
<rect x="1785.75" y="341" width="21" height="21" fill="#0000ff"/>
<rect x="1373.6" y="82.5" width="492.95" height="427.5" fill="none" stroke="#262626" stroke-width="4.9"/>
<path d="M1443.9,82.5 v12.2 M1443.9,510 v-12.2 M1584.4,82.5 v12.2 M1584.4,510 v-12.2 M1725.2,82.5 v12.2 M1725.2,510 v-12.2 M1373.6,125.2 h12.2 M1866.55,125.2 h-12.2 M1373.6,210.75 h12.2 M1866.55,210.75 h-12.2 M1373.6,296.25 h12.2 M1866.55,296.25 h-12.2 M1373.6,381.75 h12.2 M1866.55,381.75 h-12.2 M1373.6,467.3 h12.2 M1866.55,467.3 h-12.2" fill="none" stroke="#262626" stroke-width="4.9"/>
<text x="1359" y="137.2" font-size="29.3" text-anchor="end" fill="#474443">750</text>
<text x="1359" y="222.75" font-size="29.3" text-anchor="end" fill="#474443">650</text>
<text x="1359" y="308.25" font-size="29.3" text-anchor="end" fill="#474443">550</text>
<text x="1359" y="393.75" font-size="29.3" text-anchor="end" fill="#474443">450</text>
<text x="1359" y="479.3" font-size="29.3" text-anchor="end" fill="#474443">350</text>
<text x="1266" y="35.75" font-size="41.67" font-weight="bold" fill="#231815">g</text>
<text transform="translate(1286.5,296) rotate(-90)" font-size="29.17" text-anchor="middle" fill="#231815">Interband tansition (cm<tspan font-size="20.5" dy="-12.6">−1</tspan><tspan dy="12.6">)</tspan></text>
<circle cx="1437.5" cy="415.5" r="12.5" fill="#ff0000"/>
<rect x="1427" y="449.5" width="21" height="21" fill="#0000ff"/>
<text x="1467" y="425" font-size="29.17" fill="#231815">Polar. <tspan font-style="italic">a</tspan></text>
<text x="1467" y="470" font-size="29.17" fill="#231815">Polar. <tspan font-style="italic">b</tspan></text>
</g>
<g id="panel-h">
<path d="M1443.75,713.5 L1448.21,710.8 L1452.67,708.11 L1457.14,705.43 L1461.6,702.79 L1466.06,700.19 L1470.52,697.63 L1474.98,695.14 L1479.45,692.71 L1483.91,690.36 L1488.37,688.1 L1492.83,685.94 L1497.29,683.88 L1501.76,681.91 L1506.22,680.04 L1510.68,678.26 L1515.14,676.56 L1519.6,674.96 L1524.07,673.43 L1528.53,671.98 L1532.99,670.61 L1537.45,669.31 L1541.91,668.08 L1546.38,666.92 L1550.84,665.82 L1555.3,664.79 L1559.76,663.83 L1564.22,662.93 L1568.69,662.09 L1573.15,661.31 L1577.61,660.59 L1582.07,659.93 L1586.53,659.33 L1591,658.78 L1595.46,658.29 L1599.92,657.86 L1604.38,657.49 L1608.84,657.18 L1613.31,656.93 L1617.77,656.74 L1622.23,656.62 L1626.69,656.56 L1631.16,656.57 L1635.62,656.65 L1640.08,656.8 L1644.54,657.03 L1649,657.33 L1653.47,657.71 L1657.93,658.18 L1662.39,658.74 L1666.85,659.4 L1671.31,660.17 L1675.78,661.04 L1680.24,662.02 L1684.7,663.13 L1689.16,664.36 L1693.62,665.71 L1698.09,667.19 L1702.55,668.79 L1707.01,670.52 L1711.47,672.35 L1715.93,674.3 L1720.4,676.35 L1724.86,678.5 L1729.32,680.75 L1733.78,683.09 L1738.24,685.52 L1742.71,688.04 L1747.17,690.63 L1751.63,693.3 L1756.09,696.03 L1760.55,698.82 L1765.02,701.67 L1769.48,704.56 L1773.94,707.49 L1778.4,710.45 L1782.86,713.44 L1787.33,716.45 L1791.79,719.47 L1796.25,722.5 L1796.25,1158.75 L1790.28,1155.8 L1784.3,1152.84 L1778.33,1149.86 L1772.35,1146.87 L1766.38,1143.85 L1760.4,1140.79 L1754.43,1137.69 L1748.45,1134.55 L1742.48,1131.35 L1736.5,1128.08 L1730.53,1124.76 L1724.56,1121.38 L1718.58,1117.96 L1712.61,1114.51 L1706.63,1111.02 L1700.66,1107.52 L1694.68,1104.01 L1688.71,1100.49 L1682.73,1096.97 L1676.76,1093.45 L1670.78,1089.91 L1664.81,1086.36 L1658.83,1082.78 L1652.86,1079.17 L1646.89,1075.52 L1640.91,1071.82 L1634.94,1068.07 L1628.96,1064.27 L1622.99,1060.43 L1617.01,1056.55 L1611.04,1052.64 L1605.06,1048.71 L1599.09,1044.77 L1593.11,1040.81 L1587.14,1036.86 L1581.17,1032.9 L1575.19,1028.93 L1569.22,1024.94 L1563.24,1020.93 L1557.27,1016.9 L1551.29,1012.82 L1545.32,1008.71 L1539.34,1004.54 L1533.37,1000.32 L1527.39,996.05 L1521.42,991.74 L1515.44,987.4 L1509.47,983.04 L1503.5,978.66 L1497.52,974.27 L1491.55,969.89 L1485.57,965.5 L1479.6,961.13 L1473.62,956.76 L1467.65,952.4 L1461.67,948.05 L1455.7,943.7 L1449.72,939.35 L1443.75,935 Z" fill="#d9d9d9"/>
<polygon points="1435.05,698.75 1435.05,728.75 1461.05,713.75" fill="#000000"/>
<polygon points="1630.8,641.75 1630.8,671.75 1656.8,656.75" fill="#000000"/>
<polygon points="1787.55,710.5 1787.55,740.5 1813.55,725.5" fill="#000000"/>
<polygon points="1435.05,922 1435.05,952 1461.05,937" fill="#000000"/>
<polygon points="1630.8,1055.75 1630.8,1085.75 1656.8,1070.75" fill="#000000"/>
<polygon points="1787.55,1148 1787.55,1178 1813.55,1163" fill="#000000"/>
<circle cx="1443.75" cy="924.5" r="13" fill="#ff0000"/>
<circle cx="1639.5" cy="1040.75" r="13" fill="#ff0000"/>
<circle cx="1796.25" cy="1130.5" r="13" fill="#ff0000"/>
<polygon points="1443.75,643.7 1447.63,655.65 1460.2,655.65 1450.04,663.04 1453.92,675 1443.75,667.61 1433.58,675 1437.46,663.04 1427.3,655.65 1439.87,655.65" fill="#0000ff"/>
<polygon points="1443.75,907.45 1447.63,919.4 1460.2,919.4 1450.04,926.79 1453.92,938.75 1443.75,931.36 1433.58,938.75 1437.46,926.79 1427.3,919.4 1439.87,919.4" fill="#0000ff"/>
<rect x="1373.6" y="572.45" width="492.95" height="908.95" fill="none" stroke="#262626" stroke-width="4.9"/>
<path d="M1443.9,572.45 v20.5 M1443.9,1481.4 v-20.5 M1584.4,572.45 v20.5 M1584.4,1481.4 v-20.5 M1725.2,572.45 v20.5 M1725.2,1481.4 v-20.5 M1373.6,702.3 h20.5 M1866.55,702.3 h-20.5 M1373.6,832.1 h20.5 M1866.55,832.1 h-20.5 M1373.6,961.9 h20.5 M1866.55,961.9 h-20.5 M1373.6,1091.7 h20.5 M1866.55,1091.7 h-20.5 M1373.6,1221.5 h20.5 M1866.55,1221.5 h-20.5 M1373.6,1351.2 h20.5 M1866.55,1351.2 h-20.5" fill="none" stroke="#262626" stroke-width="4.9"/>
<text x="1359" y="583" font-size="29.3" text-anchor="end" fill="#474443">700</text>
<text x="1359" y="713.3" font-size="29.3" text-anchor="end" fill="#474443">600</text>
<text x="1359" y="843.1" font-size="29.3" text-anchor="end" fill="#474443">500</text>
<text x="1359" y="972.9" font-size="29.3" text-anchor="end" fill="#474443">400</text>
<text x="1359" y="1103" font-size="29.3" text-anchor="end" fill="#474443">300</text>
<text x="1359" y="1233.2" font-size="29.3" text-anchor="end" fill="#474443">200</text>
<text x="1359" y="1363.1" font-size="29.3" text-anchor="end" fill="#474443">100</text>
<text x="1359" y="1493.4" font-size="29.3" text-anchor="end" fill="#474443">0</text>
<text x="1443.9" y="1517.5" font-size="29.3" text-anchor="middle" fill="#474443">0</text>
<text x="1584.4" y="1517.5" font-size="29.3" text-anchor="middle" fill="#474443">0.2</text>
<text x="1725.2" y="1517.5" font-size="29.3" text-anchor="middle" fill="#474443">0.4</text>
<text x="1866" y="1517.5" font-size="29.3" text-anchor="middle" fill="#474443">0.6</text>
<text x="1263.8" y="575.75" font-size="41.67" font-weight="bold" fill="#231815">h</text>
<text transform="translate(1286.5,1026.5) rotate(-90)" font-size="29.17" text-anchor="middle" fill="#231815">hyperbolic regime (cm<tspan font-size="20.5" dy="-12.6">−1</tspan><tspan dy="12.6">)</tspan></text>
<text x="1617" y="1559.75" font-size="29.17" text-anchor="middle" fill="#231815">Mo doping <tspan font-style="italic">x</tspan></text>
<circle cx="1422.75" cy="1283.5" r="13" fill="#ff0000"/>
<polygon points="1414.05,1324.75 1414.05,1354.75 1440.05,1339.75" fill="#000000"/>
<polygon points="1422.75,1375.1 1426.63,1387.05 1439.2,1387.05 1429.04,1394.44 1432.92,1406.4 1422.75,1399.01 1412.58,1406.4 1416.46,1394.44 1406.3,1387.05 1418.87,1387.05" fill="#0000ff"/>
<text x="1463.5" y="1293" font-size="29.17" fill="#231815">Polarization <tspan class="sy">ϕ</tspan><tspan font-size="20.2" dy="8">max</tspan></text>
<text x="1463.5" y="1351.75" font-size="29.17" fill="#231815">Fitted conductivity</text>
<text x="1463.5" y="1403.5" font-size="29.17" fill="#231815">Ref. 13</text>
</g>
</svg>
</body></html>
